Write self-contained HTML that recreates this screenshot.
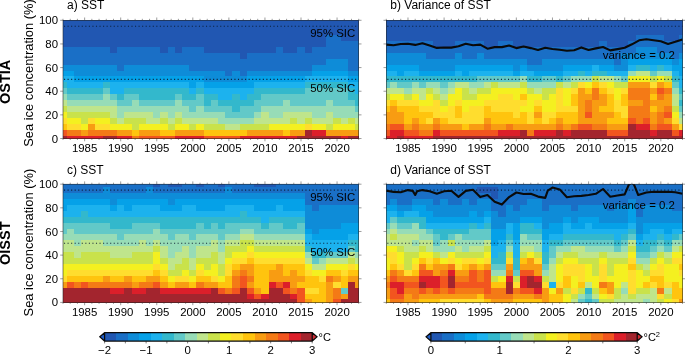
<!DOCTYPE html>
<html><head><meta charset="utf-8"><title>SST vs sea ice concentration</title>
<style>html,body{margin:0;padding:0;background:#fff;}body{width:685px;height:355px;overflow:hidden;position:relative;font-family:"Liberation Sans",sans-serif;}</style>
</head><body>
<svg width="685" height="355" viewBox="0 0 685 355" style="will-change:transform;position:absolute;left:0;top:0;font-family:'Liberation Sans',sans-serif">
<rect width="685" height="355" fill="#fff"/>
<g shape-rendering="crispEdges">
<rect x="63" y="20.3" width="296" height="3.25" fill="#2157B2"/>
<rect x="63" y="23.25" width="296" height="6.21" fill="#2157B2"/>
<rect x="63" y="29.16" width="296" height="6.21" fill="#2157B2"/>
<rect x="63" y="35.08" width="263.55" height="6.21" fill="#2157B2"/>
<rect x="326.25" y="35.08" width="14.72" height="6.21" fill="#1A6FC6"/>
<rect x="340.67" y="35.08" width="18.33" height="6.21" fill="#2157B2"/>
<rect x="63" y="40.98" width="263.55" height="6.21" fill="#2157B2"/>
<rect x="326.25" y="40.98" width="32.75" height="6.21" fill="#1A6FC6"/>
<rect x="63" y="46.89" width="47.18" height="6.21" fill="#1A6FC6"/>
<rect x="109.88" y="46.89" width="7.51" height="6.21" fill="#2157B2"/>
<rect x="117.09" y="46.89" width="43.57" height="6.21" fill="#1A6FC6"/>
<rect x="160.36" y="46.89" width="7.51" height="6.21" fill="#2157B2"/>
<rect x="167.58" y="46.89" width="7.51" height="6.21" fill="#1A6FC6"/>
<rect x="174.79" y="46.89" width="7.51" height="6.21" fill="#2157B2"/>
<rect x="182" y="46.89" width="21.94" height="6.21" fill="#1A6FC6"/>
<rect x="203.64" y="46.89" width="72.42" height="6.21" fill="#2157B2"/>
<rect x="275.76" y="46.89" width="7.51" height="6.21" fill="#1A6FC6"/>
<rect x="282.97" y="46.89" width="14.72" height="6.21" fill="#2157B2"/>
<rect x="297.4" y="46.89" width="7.51" height="6.21" fill="#1A6FC6"/>
<rect x="304.61" y="46.89" width="7.51" height="6.21" fill="#2157B2"/>
<rect x="311.82" y="46.89" width="47.18" height="6.21" fill="#1A6FC6"/>
<rect x="63" y="52.8" width="177" height="6.21" fill="#1A6FC6"/>
<rect x="239.7" y="52.8" width="7.51" height="6.21" fill="#2157B2"/>
<rect x="246.91" y="52.8" width="112.09" height="6.21" fill="#1A6FC6"/>
<rect x="63" y="58.72" width="263.55" height="6.21" fill="#1A6FC6"/>
<rect x="326.25" y="58.72" width="21.94" height="6.21" fill="#0E8CD8"/>
<rect x="347.88" y="58.72" width="11.12" height="6.21" fill="#1A6FC6"/>
<rect x="63" y="64.62" width="54.39" height="6.21" fill="#0E8CD8"/>
<rect x="117.09" y="64.62" width="7.51" height="6.21" fill="#1A6FC6"/>
<rect x="124.3" y="64.62" width="65.21" height="6.21" fill="#0E8CD8"/>
<rect x="189.21" y="64.62" width="122.91" height="6.21" fill="#1A6FC6"/>
<rect x="311.82" y="64.62" width="36.36" height="6.21" fill="#0E8CD8"/>
<rect x="347.88" y="64.62" width="11.12" height="6.21" fill="#1A6FC6"/>
<rect x="63" y="70.53" width="11.12" height="6.21" fill="#05A1E8"/>
<rect x="73.82" y="70.53" width="151.76" height="6.21" fill="#0E8CD8"/>
<rect x="225.27" y="70.53" width="7.51" height="6.21" fill="#1A6FC6"/>
<rect x="232.49" y="70.53" width="7.51" height="6.21" fill="#0E8CD8"/>
<rect x="239.7" y="70.53" width="7.51" height="6.21" fill="#1A6FC6"/>
<rect x="246.91" y="70.53" width="65.21" height="6.21" fill="#0E8CD8"/>
<rect x="311.82" y="70.53" width="36.36" height="6.21" fill="#05A1E8"/>
<rect x="347.88" y="70.53" width="11.12" height="6.21" fill="#0E8CD8"/>
<rect x="63" y="76.44" width="11.12" height="6.21" fill="#1CB2EE"/>
<rect x="73.82" y="76.44" width="130.12" height="6.21" fill="#05A1E8"/>
<rect x="203.64" y="76.44" width="43.57" height="6.21" fill="#0E8CD8"/>
<rect x="246.91" y="76.44" width="58" height="6.21" fill="#05A1E8"/>
<rect x="304.61" y="76.44" width="43.57" height="6.21" fill="#1CB2EE"/>
<rect x="347.88" y="76.44" width="11.12" height="6.21" fill="#05A1E8"/>
<rect x="63" y="82.35" width="3.91" height="6.21" fill="#33B8CC"/>
<rect x="66.61" y="82.35" width="36.36" height="6.21" fill="#1CB2EE"/>
<rect x="102.67" y="82.35" width="7.51" height="6.21" fill="#33B8CC"/>
<rect x="109.88" y="82.35" width="79.63" height="6.21" fill="#1CB2EE"/>
<rect x="189.21" y="82.35" width="7.51" height="6.21" fill="#05A1E8"/>
<rect x="196.43" y="82.35" width="7.51" height="6.21" fill="#1CB2EE"/>
<rect x="203.64" y="82.35" width="50.79" height="6.21" fill="#05A1E8"/>
<rect x="254.12" y="82.35" width="50.79" height="6.21" fill="#1CB2EE"/>
<rect x="304.61" y="82.35" width="43.57" height="6.21" fill="#33B8CC"/>
<rect x="347.88" y="82.35" width="11.12" height="6.21" fill="#1CB2EE"/>
<rect x="63" y="88.27" width="3.91" height="6.21" fill="#62C9C8"/>
<rect x="66.61" y="88.27" width="36.36" height="6.21" fill="#33B8CC"/>
<rect x="102.67" y="88.27" width="7.51" height="6.21" fill="#62C9C8"/>
<rect x="109.88" y="88.27" width="14.72" height="6.21" fill="#1CB2EE"/>
<rect x="124.3" y="88.27" width="65.21" height="6.21" fill="#33B8CC"/>
<rect x="189.21" y="88.27" width="7.51" height="6.21" fill="#1CB2EE"/>
<rect x="196.43" y="88.27" width="7.51" height="6.21" fill="#33B8CC"/>
<rect x="203.64" y="88.27" width="50.79" height="6.21" fill="#1CB2EE"/>
<rect x="254.12" y="88.27" width="50.79" height="6.21" fill="#33B8CC"/>
<rect x="304.61" y="88.27" width="43.57" height="6.21" fill="#62C9C8"/>
<rect x="347.88" y="88.27" width="7.51" height="6.21" fill="#33B8CC"/>
<rect x="355.09" y="88.27" width="3.91" height="6.21" fill="#1CB2EE"/>
<rect x="63" y="94.17" width="3.91" height="6.21" fill="#97DCB7"/>
<rect x="66.61" y="94.17" width="36.36" height="6.21" fill="#62C9C8"/>
<rect x="102.67" y="94.17" width="7.51" height="6.21" fill="#97DCB7"/>
<rect x="109.88" y="94.17" width="7.51" height="6.21" fill="#62C9C8"/>
<rect x="117.09" y="94.17" width="7.51" height="6.21" fill="#33B8CC"/>
<rect x="124.3" y="94.17" width="14.72" height="6.21" fill="#62C9C8"/>
<rect x="138.73" y="94.17" width="36.36" height="6.21" fill="#33B8CC"/>
<rect x="174.79" y="94.17" width="7.51" height="6.21" fill="#62C9C8"/>
<rect x="182" y="94.17" width="14.72" height="6.21" fill="#33B8CC"/>
<rect x="196.43" y="94.17" width="7.51" height="6.21" fill="#62C9C8"/>
<rect x="203.64" y="94.17" width="14.72" height="6.21" fill="#33B8CC"/>
<rect x="218.06" y="94.17" width="14.72" height="6.21" fill="#1CB2EE"/>
<rect x="232.49" y="94.17" width="7.51" height="6.21" fill="#33B8CC"/>
<rect x="239.7" y="94.17" width="7.51" height="6.21" fill="#1CB2EE"/>
<rect x="246.91" y="94.17" width="14.72" height="6.21" fill="#33B8CC"/>
<rect x="261.34" y="94.17" width="86.85" height="6.21" fill="#62C9C8"/>
<rect x="347.88" y="94.17" width="11.12" height="6.21" fill="#33B8CC"/>
<rect x="63" y="100.09" width="3.91" height="6.21" fill="#BFE58C"/>
<rect x="66.61" y="100.09" width="50.79" height="6.21" fill="#97DCB7"/>
<rect x="117.09" y="100.09" width="14.72" height="6.21" fill="#62C9C8"/>
<rect x="131.52" y="100.09" width="7.51" height="6.21" fill="#97DCB7"/>
<rect x="138.73" y="100.09" width="36.36" height="6.21" fill="#62C9C8"/>
<rect x="174.79" y="100.09" width="7.51" height="6.21" fill="#97DCB7"/>
<rect x="182" y="100.09" width="21.94" height="6.21" fill="#62C9C8"/>
<rect x="203.64" y="100.09" width="7.51" height="6.21" fill="#33B8CC"/>
<rect x="210.85" y="100.09" width="7.51" height="6.21" fill="#62C9C8"/>
<rect x="218.06" y="100.09" width="36.36" height="6.21" fill="#33B8CC"/>
<rect x="254.12" y="100.09" width="29.15" height="6.21" fill="#62C9C8"/>
<rect x="282.97" y="100.09" width="7.51" height="6.21" fill="#97DCB7"/>
<rect x="290.18" y="100.09" width="36.36" height="6.21" fill="#62C9C8"/>
<rect x="326.25" y="100.09" width="7.51" height="6.21" fill="#97DCB7"/>
<rect x="333.46" y="100.09" width="21.94" height="6.21" fill="#62C9C8"/>
<rect x="355.09" y="100.09" width="3.91" height="6.21" fill="#33B8CC"/>
<rect x="63" y="106" width="3.91" height="6.21" fill="#C9E24B"/>
<rect x="66.61" y="106" width="50.79" height="6.21" fill="#BFE58C"/>
<rect x="117.09" y="106" width="72.42" height="6.21" fill="#97DCB7"/>
<rect x="189.21" y="106" width="7.51" height="6.21" fill="#62C9C8"/>
<rect x="196.43" y="106" width="7.51" height="6.21" fill="#97DCB7"/>
<rect x="203.64" y="106" width="29.15" height="6.21" fill="#62C9C8"/>
<rect x="232.49" y="106" width="7.51" height="6.21" fill="#33B8CC"/>
<rect x="239.7" y="106" width="21.94" height="6.21" fill="#62C9C8"/>
<rect x="261.34" y="106" width="94.06" height="6.21" fill="#97DCB7"/>
<rect x="355.09" y="106" width="3.91" height="6.21" fill="#62C9C8"/>
<rect x="63" y="111.91" width="3.91" height="6.21" fill="#F4F020"/>
<rect x="66.61" y="111.91" width="43.57" height="6.21" fill="#C9E24B"/>
<rect x="109.88" y="111.91" width="7.51" height="6.21" fill="#BFE58C"/>
<rect x="117.09" y="111.91" width="7.51" height="6.21" fill="#97DCB7"/>
<rect x="124.3" y="111.91" width="29.15" height="6.21" fill="#BFE58C"/>
<rect x="153.15" y="111.91" width="7.51" height="6.21" fill="#97DCB7"/>
<rect x="160.36" y="111.91" width="7.51" height="6.21" fill="#BFE58C"/>
<rect x="167.58" y="111.91" width="7.51" height="6.21" fill="#97DCB7"/>
<rect x="174.79" y="111.91" width="7.51" height="6.21" fill="#BFE58C"/>
<rect x="182" y="111.91" width="43.57" height="6.21" fill="#97DCB7"/>
<rect x="225.27" y="111.91" width="29.15" height="6.21" fill="#62C9C8"/>
<rect x="254.12" y="111.91" width="7.51" height="6.21" fill="#97DCB7"/>
<rect x="261.34" y="111.91" width="7.51" height="6.21" fill="#BFE58C"/>
<rect x="268.55" y="111.91" width="14.72" height="6.21" fill="#97DCB7"/>
<rect x="282.97" y="111.91" width="29.15" height="6.21" fill="#BFE58C"/>
<rect x="311.82" y="111.91" width="14.72" height="6.21" fill="#97DCB7"/>
<rect x="326.25" y="111.91" width="7.51" height="6.21" fill="#BFE58C"/>
<rect x="333.46" y="111.91" width="25.54" height="6.21" fill="#97DCB7"/>
<rect x="63" y="117.81" width="3.91" height="6.21" fill="#FFDD2E"/>
<rect x="66.61" y="117.81" width="14.72" height="6.21" fill="#F4F020"/>
<rect x="81.03" y="117.81" width="7.51" height="6.21" fill="#C9E24B"/>
<rect x="88.24" y="117.81" width="7.51" height="6.21" fill="#FFDD2E"/>
<rect x="95.45" y="117.81" width="14.72" height="6.21" fill="#F4F020"/>
<rect x="109.88" y="117.81" width="7.51" height="6.21" fill="#C9E24B"/>
<rect x="117.09" y="117.81" width="7.51" height="6.21" fill="#BFE58C"/>
<rect x="124.3" y="117.81" width="21.94" height="6.21" fill="#C9E24B"/>
<rect x="145.94" y="117.81" width="14.72" height="6.21" fill="#BFE58C"/>
<rect x="160.36" y="117.81" width="7.51" height="6.21" fill="#C9E24B"/>
<rect x="167.58" y="117.81" width="7.51" height="6.21" fill="#BFE58C"/>
<rect x="174.79" y="117.81" width="7.51" height="6.21" fill="#C9E24B"/>
<rect x="182" y="117.81" width="36.36" height="6.21" fill="#BFE58C"/>
<rect x="218.06" y="117.81" width="36.36" height="6.21" fill="#97DCB7"/>
<rect x="254.12" y="117.81" width="36.36" height="6.21" fill="#BFE58C"/>
<rect x="290.18" y="117.81" width="7.51" height="6.21" fill="#C9E24B"/>
<rect x="297.4" y="117.81" width="7.51" height="6.21" fill="#BFE58C"/>
<rect x="304.61" y="117.81" width="7.51" height="6.21" fill="#C9E24B"/>
<rect x="311.82" y="117.81" width="21.94" height="6.21" fill="#BFE58C"/>
<rect x="333.46" y="117.81" width="7.51" height="6.21" fill="#C9E24B"/>
<rect x="340.67" y="117.81" width="7.51" height="6.21" fill="#BFE58C"/>
<rect x="347.88" y="117.81" width="7.51" height="6.21" fill="#C9E24B"/>
<rect x="355.09" y="117.81" width="3.91" height="6.21" fill="#BFE58C"/>
<rect x="63" y="123.72" width="3.91" height="6.21" fill="#FFC40E"/>
<rect x="66.61" y="123.72" width="14.72" height="6.21" fill="#FFDD2E"/>
<rect x="81.03" y="123.72" width="7.51" height="6.21" fill="#F4F020"/>
<rect x="88.24" y="123.72" width="7.51" height="6.21" fill="#F89C12"/>
<rect x="95.45" y="123.72" width="14.72" height="6.21" fill="#FFDD2E"/>
<rect x="109.88" y="123.72" width="21.94" height="6.21" fill="#F4F020"/>
<rect x="131.52" y="123.72" width="7.51" height="6.21" fill="#C9E24B"/>
<rect x="138.73" y="123.72" width="29.15" height="6.21" fill="#F4F020"/>
<rect x="167.58" y="123.72" width="7.51" height="6.21" fill="#C9E24B"/>
<rect x="174.79" y="123.72" width="14.72" height="6.21" fill="#F4F020"/>
<rect x="189.21" y="123.72" width="7.51" height="6.21" fill="#C9E24B"/>
<rect x="196.43" y="123.72" width="7.51" height="6.21" fill="#F4F020"/>
<rect x="203.64" y="123.72" width="21.94" height="6.21" fill="#C9E24B"/>
<rect x="225.27" y="123.72" width="14.72" height="6.21" fill="#BFE58C"/>
<rect x="239.7" y="123.72" width="29.15" height="6.21" fill="#C9E24B"/>
<rect x="268.55" y="123.72" width="36.36" height="6.21" fill="#F4F020"/>
<rect x="304.61" y="123.72" width="7.51" height="6.21" fill="#FFDD2E"/>
<rect x="311.82" y="123.72" width="14.72" height="6.21" fill="#F4F020"/>
<rect x="326.25" y="123.72" width="7.51" height="6.21" fill="#C9E24B"/>
<rect x="333.46" y="123.72" width="21.94" height="6.21" fill="#F4F020"/>
<rect x="355.09" y="123.72" width="3.91" height="6.21" fill="#C9E24B"/>
<rect x="63" y="129.63" width="3.91" height="6.21" fill="#F2551F"/>
<rect x="66.61" y="129.63" width="14.72" height="6.21" fill="#F47A16"/>
<rect x="81.03" y="129.63" width="7.51" height="6.21" fill="#F89C12"/>
<rect x="88.24" y="129.63" width="29.15" height="6.21" fill="#F47A16"/>
<rect x="117.09" y="129.63" width="14.72" height="6.21" fill="#F89C12"/>
<rect x="131.52" y="129.63" width="7.51" height="6.21" fill="#FFC40E"/>
<rect x="138.73" y="129.63" width="21.94" height="6.21" fill="#F89C12"/>
<rect x="160.36" y="129.63" width="14.72" height="6.21" fill="#FFC40E"/>
<rect x="174.79" y="129.63" width="29.15" height="6.21" fill="#F89C12"/>
<rect x="203.64" y="129.63" width="43.57" height="6.21" fill="#FFC40E"/>
<rect x="246.91" y="129.63" width="36.36" height="6.21" fill="#F89C12"/>
<rect x="282.97" y="129.63" width="7.51" height="6.21" fill="#FFC40E"/>
<rect x="290.18" y="129.63" width="14.72" height="6.21" fill="#F89C12"/>
<rect x="304.61" y="129.63" width="7.51" height="6.21" fill="#A3252E"/>
<rect x="311.82" y="129.63" width="14.72" height="6.21" fill="#DC1F2A"/>
<rect x="326.25" y="129.63" width="32.75" height="6.21" fill="#F89C12"/>
<rect x="63" y="135.54" width="3.91" height="3.26" fill="#A3252E"/>
<rect x="66.61" y="135.54" width="36.36" height="3.26" fill="#DC1F2A"/>
<rect x="102.67" y="135.54" width="14.72" height="3.26" fill="#A3252E"/>
<rect x="117.09" y="135.54" width="14.72" height="3.26" fill="#DC1F2A"/>
<rect x="131.52" y="135.54" width="7.51" height="3.26" fill="#F47A16"/>
<rect x="138.73" y="135.54" width="36.36" height="3.26" fill="#F2551F"/>
<rect x="174.79" y="135.54" width="29.15" height="3.26" fill="#DC1F2A"/>
<rect x="203.64" y="135.54" width="36.36" height="3.26" fill="#F2551F"/>
<rect x="239.7" y="135.54" width="58" height="3.26" fill="#DC1F2A"/>
<rect x="297.4" y="135.54" width="43.57" height="3.26" fill="#A3252E"/>
<rect x="340.67" y="135.54" width="7.51" height="3.26" fill="#DC1F2A"/>
<rect x="347.88" y="135.54" width="11.12" height="3.26" fill="#A3252E"/>
</g>
<rect x="63" y="20.3" width="295.7" height="118.2" fill="none" stroke="#222" stroke-width="0.55"/>
<path d="M63 138.5v1.5M63 20.3v-1.5M70.21 138.5v1.5M70.21 20.3v-1.5M77.42 138.5v1.5M77.42 20.3v-1.5M84.64 138.5v2.8M84.64 20.3v-2.8M91.85 138.5v1.5M91.85 20.3v-1.5M99.06 138.5v1.5M99.06 20.3v-1.5M106.27 138.5v1.5M106.27 20.3v-1.5M113.49 138.5v1.5M113.49 20.3v-1.5M120.7 138.5v2.8M120.7 20.3v-2.8M127.91 138.5v1.5M127.91 20.3v-1.5M135.12 138.5v1.5M135.12 20.3v-1.5M142.33 138.5v1.5M142.33 20.3v-1.5M149.55 138.5v1.5M149.55 20.3v-1.5M156.76 138.5v2.8M156.76 20.3v-2.8M163.97 138.5v1.5M163.97 20.3v-1.5M171.18 138.5v1.5M171.18 20.3v-1.5M178.4 138.5v1.5M178.4 20.3v-1.5M185.61 138.5v1.5M185.61 20.3v-1.5M192.82 138.5v2.8M192.82 20.3v-2.8M200.03 138.5v1.5M200.03 20.3v-1.5M207.24 138.5v1.5M207.24 20.3v-1.5M214.46 138.5v1.5M214.46 20.3v-1.5M221.67 138.5v1.5M221.67 20.3v-1.5M228.88 138.5v2.8M228.88 20.3v-2.8M236.09 138.5v1.5M236.09 20.3v-1.5M243.3 138.5v1.5M243.3 20.3v-1.5M250.52 138.5v1.5M250.52 20.3v-1.5M257.73 138.5v1.5M257.73 20.3v-1.5M264.94 138.5v2.8M264.94 20.3v-2.8M272.15 138.5v1.5M272.15 20.3v-1.5M279.37 138.5v1.5M279.37 20.3v-1.5M286.58 138.5v1.5M286.58 20.3v-1.5M293.79 138.5v1.5M293.79 20.3v-1.5M301 138.5v2.8M301 20.3v-2.8M308.21 138.5v1.5M308.21 20.3v-1.5M315.43 138.5v1.5M315.43 20.3v-1.5M322.64 138.5v1.5M322.64 20.3v-1.5M329.85 138.5v1.5M329.85 20.3v-1.5M337.06 138.5v2.8M337.06 20.3v-2.8M344.28 138.5v1.5M344.28 20.3v-1.5M351.49 138.5v1.5M351.49 20.3v-1.5M358.7 138.5v1.5M358.7 20.3v-1.5M63 138.5h-2.8M358.7 138.5h2.8M63 114.86h-2.8M358.7 114.86h2.8M63 91.22h-2.8M358.7 91.22h2.8M63 67.58h-2.8M358.7 67.58h2.8M63 43.94h-2.8M358.7 43.94h2.8M63 20.3h-2.8M358.7 20.3h2.8" stroke="#3a3a3a" stroke-width="0.5" fill="none"/>
<path d="M64 79.4H358.7" stroke="#0a1a30" stroke-width="1.1" stroke-dasharray="1.1 2.45" fill="none" opacity="0.9"/>
<path d="M64 26.21H358.7" stroke="#0a1a30" stroke-width="1.1" stroke-dasharray="1.1 2.45" fill="none" opacity="0.9"/>
<text x="84.64"  y="152.3" font-size="11.4" text-anchor="middle" fill="#000">1985</text>
<text x="120.7"  y="152.3" font-size="11.4" text-anchor="middle" fill="#000">1990</text>
<text x="156.76"  y="152.3" font-size="11.4" text-anchor="middle" fill="#000">1995</text>
<text x="192.82"  y="152.3" font-size="11.4" text-anchor="middle" fill="#000">2000</text>
<text x="228.88"  y="152.3" font-size="11.4" text-anchor="middle" fill="#000">2005</text>
<text x="264.94"  y="152.3" font-size="11.4" text-anchor="middle" fill="#000">2010</text>
<text x="301"  y="152.3" font-size="11.4" text-anchor="middle" fill="#000">2015</text>
<text x="337.06"  y="152.3" font-size="11.4" text-anchor="middle" fill="#000">2020</text>
<text x="58" y="142.55" font-size="11.4" text-anchor="end" fill="#000">0</text>
<text x="58" y="118.91" font-size="11.4" text-anchor="end" fill="#000">20</text>
<text x="58" y="95.27" font-size="11.4" text-anchor="end" fill="#000">40</text>
<text x="58" y="71.63" font-size="11.4" text-anchor="end" fill="#000">60</text>
<text x="58" y="47.99" font-size="11.4" text-anchor="end" fill="#000">80</text>
<text x="58" y="24.35" font-size="11.4" text-anchor="end" fill="#000">100</text>
<g shape-rendering="crispEdges">
<rect x="386.3" y="20.3" width="296.5" height="3.25" fill="#2157B2"/>
<rect x="386.3" y="23.25" width="296.5" height="6.21" fill="#2157B2"/>
<rect x="386.3" y="29.16" width="296.5" height="6.21" fill="#2157B2"/>
<rect x="386.3" y="35.08" width="249.54" height="6.21" fill="#2157B2"/>
<rect x="635.54" y="35.08" width="29.2" height="6.21" fill="#1A6FC6"/>
<rect x="664.44" y="35.08" width="14.75" height="6.21" fill="#2157B2"/>
<rect x="678.89" y="35.08" width="3.91" height="6.21" fill="#1A6FC6"/>
<rect x="386.3" y="40.98" width="47.26" height="6.21" fill="#1A6FC6"/>
<rect x="433.26" y="40.98" width="21.97" height="6.21" fill="#2157B2"/>
<rect x="454.93" y="40.98" width="29.2" height="6.21" fill="#1A6FC6"/>
<rect x="483.83" y="40.98" width="14.75" height="6.21" fill="#2157B2"/>
<rect x="498.28" y="40.98" width="14.75" height="6.21" fill="#1A6FC6"/>
<rect x="512.73" y="40.98" width="86.99" height="6.21" fill="#2157B2"/>
<rect x="599.42" y="40.98" width="7.52" height="6.21" fill="#1A6FC6"/>
<rect x="606.64" y="40.98" width="21.97" height="6.21" fill="#2157B2"/>
<rect x="628.32" y="40.98" width="54.48" height="6.21" fill="#1A6FC6"/>
<rect x="386.3" y="46.89" width="249.54" height="6.21" fill="#1A6FC6"/>
<rect x="635.54" y="46.89" width="21.97" height="6.21" fill="#0E8CD8"/>
<rect x="657.21" y="46.89" width="25.59" height="6.21" fill="#1A6FC6"/>
<rect x="386.3" y="52.8" width="40.03" height="6.21" fill="#0E8CD8"/>
<rect x="426.03" y="52.8" width="29.2" height="6.21" fill="#1A6FC6"/>
<rect x="454.93" y="52.8" width="7.52" height="6.21" fill="#0E8CD8"/>
<rect x="462.16" y="52.8" width="14.75" height="6.21" fill="#1A6FC6"/>
<rect x="476.6" y="52.8" width="7.52" height="6.21" fill="#0E8CD8"/>
<rect x="483.83" y="52.8" width="137.56" height="6.21" fill="#1A6FC6"/>
<rect x="621.09" y="52.8" width="50.87" height="6.21" fill="#0E8CD8"/>
<rect x="671.66" y="52.8" width="7.52" height="6.21" fill="#1A6FC6"/>
<rect x="678.89" y="52.8" width="3.91" height="6.21" fill="#0E8CD8"/>
<rect x="386.3" y="58.72" width="141.18" height="6.21" fill="#0E8CD8"/>
<rect x="527.18" y="58.72" width="14.75" height="6.21" fill="#1A6FC6"/>
<rect x="541.62" y="58.72" width="72.54" height="6.21" fill="#0E8CD8"/>
<rect x="613.87" y="58.72" width="7.52" height="6.21" fill="#1A6FC6"/>
<rect x="621.09" y="58.72" width="7.52" height="6.21" fill="#0E8CD8"/>
<rect x="628.32" y="58.72" width="43.65" height="6.21" fill="#05A1E8"/>
<rect x="671.66" y="58.72" width="7.52" height="6.21" fill="#0E8CD8"/>
<rect x="678.89" y="58.72" width="3.91" height="6.21" fill="#05A1E8"/>
<rect x="386.3" y="64.62" width="32.81" height="6.21" fill="#05A1E8"/>
<rect x="418.81" y="64.62" width="36.42" height="6.21" fill="#0E8CD8"/>
<rect x="454.93" y="64.62" width="58.1" height="6.21" fill="#05A1E8"/>
<rect x="512.73" y="64.62" width="7.52" height="6.21" fill="#0E8CD8"/>
<rect x="519.95" y="64.62" width="7.52" height="6.21" fill="#05A1E8"/>
<rect x="527.18" y="64.62" width="36.42" height="6.21" fill="#0E8CD8"/>
<rect x="563.3" y="64.62" width="29.2" height="6.21" fill="#05A1E8"/>
<rect x="592.2" y="64.62" width="7.52" height="6.21" fill="#1CB2EE"/>
<rect x="599.42" y="64.62" width="14.75" height="6.21" fill="#05A1E8"/>
<rect x="613.87" y="64.62" width="14.75" height="6.21" fill="#0E8CD8"/>
<rect x="628.32" y="64.62" width="7.52" height="6.21" fill="#1CB2EE"/>
<rect x="635.54" y="64.62" width="14.75" height="6.21" fill="#33B8CC"/>
<rect x="649.99" y="64.62" width="7.52" height="6.21" fill="#1CB2EE"/>
<rect x="657.21" y="64.62" width="7.52" height="6.21" fill="#33B8CC"/>
<rect x="664.44" y="64.62" width="7.52" height="6.21" fill="#1CB2EE"/>
<rect x="671.66" y="64.62" width="11.14" height="6.21" fill="#05A1E8"/>
<rect x="386.3" y="70.53" width="11.14" height="6.21" fill="#1CB2EE"/>
<rect x="397.14" y="70.53" width="7.52" height="6.21" fill="#05A1E8"/>
<rect x="404.36" y="70.53" width="14.75" height="6.21" fill="#1CB2EE"/>
<rect x="418.81" y="70.53" width="36.42" height="6.21" fill="#05A1E8"/>
<rect x="454.93" y="70.53" width="7.52" height="6.21" fill="#1CB2EE"/>
<rect x="462.16" y="70.53" width="7.52" height="6.21" fill="#05A1E8"/>
<rect x="469.38" y="70.53" width="43.65" height="6.21" fill="#1CB2EE"/>
<rect x="512.73" y="70.53" width="7.52" height="6.21" fill="#05A1E8"/>
<rect x="519.95" y="70.53" width="14.75" height="6.21" fill="#1CB2EE"/>
<rect x="534.4" y="70.53" width="29.2" height="6.21" fill="#05A1E8"/>
<rect x="563.3" y="70.53" width="14.75" height="6.21" fill="#1CB2EE"/>
<rect x="577.75" y="70.53" width="7.52" height="6.21" fill="#33B8CC"/>
<rect x="584.97" y="70.53" width="7.52" height="6.21" fill="#1CB2EE"/>
<rect x="592.2" y="70.53" width="14.75" height="6.21" fill="#33B8CC"/>
<rect x="606.64" y="70.53" width="21.97" height="6.21" fill="#1CB2EE"/>
<rect x="628.32" y="70.53" width="7.52" height="6.21" fill="#97DCB7"/>
<rect x="635.54" y="70.53" width="14.75" height="6.21" fill="#BFE58C"/>
<rect x="649.99" y="70.53" width="7.52" height="6.21" fill="#62C9C8"/>
<rect x="657.21" y="70.53" width="14.75" height="6.21" fill="#97DCB7"/>
<rect x="671.66" y="70.53" width="7.52" height="6.21" fill="#1CB2EE"/>
<rect x="678.89" y="70.53" width="3.91" height="6.21" fill="#05A1E8"/>
<rect x="386.3" y="76.44" width="90.6" height="6.21" fill="#33B8CC"/>
<rect x="476.6" y="76.44" width="43.65" height="6.21" fill="#62C9C8"/>
<rect x="519.95" y="76.44" width="7.52" height="6.21" fill="#97DCB7"/>
<rect x="527.18" y="76.44" width="14.75" height="6.21" fill="#33B8CC"/>
<rect x="541.62" y="76.44" width="14.75" height="6.21" fill="#62C9C8"/>
<rect x="556.07" y="76.44" width="7.52" height="6.21" fill="#33B8CC"/>
<rect x="563.3" y="76.44" width="7.52" height="6.21" fill="#62C9C8"/>
<rect x="570.52" y="76.44" width="21.97" height="6.21" fill="#97DCB7"/>
<rect x="592.2" y="76.44" width="7.52" height="6.21" fill="#C9E24B"/>
<rect x="599.42" y="76.44" width="14.75" height="6.21" fill="#BFE58C"/>
<rect x="613.87" y="76.44" width="7.52" height="6.21" fill="#97DCB7"/>
<rect x="621.09" y="76.44" width="7.52" height="6.21" fill="#62C9C8"/>
<rect x="628.32" y="76.44" width="21.97" height="6.21" fill="#F4F020"/>
<rect x="649.99" y="76.44" width="7.52" height="6.21" fill="#C9E24B"/>
<rect x="657.21" y="76.44" width="7.52" height="6.21" fill="#F4F020"/>
<rect x="664.44" y="76.44" width="7.52" height="6.21" fill="#C9E24B"/>
<rect x="671.66" y="76.44" width="7.52" height="6.21" fill="#33B8CC"/>
<rect x="678.89" y="76.44" width="3.91" height="6.21" fill="#1CB2EE"/>
<rect x="386.3" y="82.35" width="3.91" height="6.21" fill="#62C9C8"/>
<rect x="389.91" y="82.35" width="7.52" height="6.21" fill="#97DCB7"/>
<rect x="397.14" y="82.35" width="14.75" height="6.21" fill="#62C9C8"/>
<rect x="411.59" y="82.35" width="7.52" height="6.21" fill="#97DCB7"/>
<rect x="418.81" y="82.35" width="7.52" height="6.21" fill="#62C9C8"/>
<rect x="426.03" y="82.35" width="14.75" height="6.21" fill="#97DCB7"/>
<rect x="440.48" y="82.35" width="7.52" height="6.21" fill="#62C9C8"/>
<rect x="447.71" y="82.35" width="7.52" height="6.21" fill="#97DCB7"/>
<rect x="454.93" y="82.35" width="14.75" height="6.21" fill="#BFE58C"/>
<rect x="469.38" y="82.35" width="14.75" height="6.21" fill="#97DCB7"/>
<rect x="483.83" y="82.35" width="7.52" height="6.21" fill="#BFE58C"/>
<rect x="491.05" y="82.35" width="7.52" height="6.21" fill="#C9E24B"/>
<rect x="498.28" y="82.35" width="21.97" height="6.21" fill="#BFE58C"/>
<rect x="519.95" y="82.35" width="7.52" height="6.21" fill="#C9E24B"/>
<rect x="527.18" y="82.35" width="29.2" height="6.21" fill="#97DCB7"/>
<rect x="556.07" y="82.35" width="7.52" height="6.21" fill="#C9E24B"/>
<rect x="563.3" y="82.35" width="7.52" height="6.21" fill="#BFE58C"/>
<rect x="570.52" y="82.35" width="7.52" height="6.21" fill="#C9E24B"/>
<rect x="577.75" y="82.35" width="7.52" height="6.21" fill="#FFDD2E"/>
<rect x="584.97" y="82.35" width="7.52" height="6.21" fill="#F4F020"/>
<rect x="592.2" y="82.35" width="7.52" height="6.21" fill="#FFC40E"/>
<rect x="599.42" y="82.35" width="7.52" height="6.21" fill="#FFDD2E"/>
<rect x="606.64" y="82.35" width="7.52" height="6.21" fill="#F4F020"/>
<rect x="613.87" y="82.35" width="14.75" height="6.21" fill="#C9E24B"/>
<rect x="628.32" y="82.35" width="21.97" height="6.21" fill="#F89C12"/>
<rect x="649.99" y="82.35" width="7.52" height="6.21" fill="#FFDD2E"/>
<rect x="657.21" y="82.35" width="7.52" height="6.21" fill="#F89C12"/>
<rect x="664.44" y="82.35" width="7.52" height="6.21" fill="#FFC40E"/>
<rect x="671.66" y="82.35" width="7.52" height="6.21" fill="#62C9C8"/>
<rect x="678.89" y="82.35" width="3.91" height="6.21" fill="#1CB2EE"/>
<rect x="386.3" y="88.27" width="18.36" height="6.21" fill="#BFE58C"/>
<rect x="404.36" y="88.27" width="7.52" height="6.21" fill="#97DCB7"/>
<rect x="411.59" y="88.27" width="14.75" height="6.21" fill="#BFE58C"/>
<rect x="426.03" y="88.27" width="7.52" height="6.21" fill="#C9E24B"/>
<rect x="433.26" y="88.27" width="7.52" height="6.21" fill="#BFE58C"/>
<rect x="440.48" y="88.27" width="7.52" height="6.21" fill="#97DCB7"/>
<rect x="447.71" y="88.27" width="7.52" height="6.21" fill="#BFE58C"/>
<rect x="454.93" y="88.27" width="7.52" height="6.21" fill="#F4F020"/>
<rect x="462.16" y="88.27" width="7.52" height="6.21" fill="#C9E24B"/>
<rect x="469.38" y="88.27" width="7.52" height="6.21" fill="#BFE58C"/>
<rect x="476.6" y="88.27" width="14.75" height="6.21" fill="#C9E24B"/>
<rect x="491.05" y="88.27" width="36.42" height="6.21" fill="#F4F020"/>
<rect x="527.18" y="88.27" width="7.52" height="6.21" fill="#C9E24B"/>
<rect x="534.4" y="88.27" width="7.52" height="6.21" fill="#BFE58C"/>
<rect x="541.62" y="88.27" width="14.75" height="6.21" fill="#C9E24B"/>
<rect x="556.07" y="88.27" width="7.52" height="6.21" fill="#FFDD2E"/>
<rect x="563.3" y="88.27" width="7.52" height="6.21" fill="#F4F020"/>
<rect x="570.52" y="88.27" width="7.52" height="6.21" fill="#FFDD2E"/>
<rect x="577.75" y="88.27" width="7.52" height="6.21" fill="#F89C12"/>
<rect x="584.97" y="88.27" width="7.52" height="6.21" fill="#FFC40E"/>
<rect x="592.2" y="88.27" width="7.52" height="6.21" fill="#F47A16"/>
<rect x="599.42" y="88.27" width="7.52" height="6.21" fill="#FFC40E"/>
<rect x="606.64" y="88.27" width="7.52" height="6.21" fill="#FFDD2E"/>
<rect x="613.87" y="88.27" width="7.52" height="6.21" fill="#F4F020"/>
<rect x="621.09" y="88.27" width="7.52" height="6.21" fill="#FFDD2E"/>
<rect x="628.32" y="88.27" width="21.97" height="6.21" fill="#F47A16"/>
<rect x="649.99" y="88.27" width="7.52" height="6.21" fill="#F89C12"/>
<rect x="657.21" y="88.27" width="7.52" height="6.21" fill="#F2551F"/>
<rect x="664.44" y="88.27" width="7.52" height="6.21" fill="#F47A16"/>
<rect x="671.66" y="88.27" width="7.52" height="6.21" fill="#97DCB7"/>
<rect x="678.89" y="88.27" width="3.91" height="6.21" fill="#33B8CC"/>
<rect x="386.3" y="94.17" width="3.91" height="6.21" fill="#C9E24B"/>
<rect x="389.91" y="94.17" width="14.75" height="6.21" fill="#F4F020"/>
<rect x="404.36" y="94.17" width="7.52" height="6.21" fill="#C9E24B"/>
<rect x="411.59" y="94.17" width="7.52" height="6.21" fill="#F4F020"/>
<rect x="418.81" y="94.17" width="7.52" height="6.21" fill="#BFE58C"/>
<rect x="426.03" y="94.17" width="7.52" height="6.21" fill="#F4F020"/>
<rect x="433.26" y="94.17" width="7.52" height="6.21" fill="#C9E24B"/>
<rect x="440.48" y="94.17" width="7.52" height="6.21" fill="#BFE58C"/>
<rect x="447.71" y="94.17" width="14.75" height="6.21" fill="#F4F020"/>
<rect x="462.16" y="94.17" width="14.75" height="6.21" fill="#C9E24B"/>
<rect x="476.6" y="94.17" width="21.97" height="6.21" fill="#F4F020"/>
<rect x="498.28" y="94.17" width="14.75" height="6.21" fill="#FFDD2E"/>
<rect x="512.73" y="94.17" width="7.52" height="6.21" fill="#F4F020"/>
<rect x="519.95" y="94.17" width="7.52" height="6.21" fill="#FFC40E"/>
<rect x="527.18" y="94.17" width="14.75" height="6.21" fill="#F4F020"/>
<rect x="541.62" y="94.17" width="7.52" height="6.21" fill="#C9E24B"/>
<rect x="548.85" y="94.17" width="7.52" height="6.21" fill="#F4F020"/>
<rect x="556.07" y="94.17" width="7.52" height="6.21" fill="#FFDD2E"/>
<rect x="563.3" y="94.17" width="7.52" height="6.21" fill="#F4F020"/>
<rect x="570.52" y="94.17" width="7.52" height="6.21" fill="#FFC40E"/>
<rect x="577.75" y="94.17" width="14.75" height="6.21" fill="#F89C12"/>
<rect x="592.2" y="94.17" width="7.52" height="6.21" fill="#F47A16"/>
<rect x="599.42" y="94.17" width="7.52" height="6.21" fill="#F89C12"/>
<rect x="606.64" y="94.17" width="7.52" height="6.21" fill="#FFC40E"/>
<rect x="613.87" y="94.17" width="7.52" height="6.21" fill="#F4F020"/>
<rect x="621.09" y="94.17" width="7.52" height="6.21" fill="#FFC40E"/>
<rect x="628.32" y="94.17" width="21.97" height="6.21" fill="#F47A16"/>
<rect x="649.99" y="94.17" width="7.52" height="6.21" fill="#FFC40E"/>
<rect x="657.21" y="94.17" width="7.52" height="6.21" fill="#F47A16"/>
<rect x="664.44" y="94.17" width="7.52" height="6.21" fill="#F89C12"/>
<rect x="671.66" y="94.17" width="7.52" height="6.21" fill="#BFE58C"/>
<rect x="678.89" y="94.17" width="3.91" height="6.21" fill="#62C9C8"/>
<rect x="386.3" y="100.09" width="3.91" height="6.21" fill="#FFDD2E"/>
<rect x="389.91" y="100.09" width="7.52" height="6.21" fill="#FFC40E"/>
<rect x="397.14" y="100.09" width="21.97" height="6.21" fill="#FFDD2E"/>
<rect x="418.81" y="100.09" width="14.75" height="6.21" fill="#F4F020"/>
<rect x="433.26" y="100.09" width="7.52" height="6.21" fill="#FFDD2E"/>
<rect x="440.48" y="100.09" width="7.52" height="6.21" fill="#C9E24B"/>
<rect x="447.71" y="100.09" width="7.52" height="6.21" fill="#F4F020"/>
<rect x="454.93" y="100.09" width="7.52" height="6.21" fill="#FFDD2E"/>
<rect x="462.16" y="100.09" width="21.97" height="6.21" fill="#F4F020"/>
<rect x="483.83" y="100.09" width="43.65" height="6.21" fill="#FFDD2E"/>
<rect x="527.18" y="100.09" width="7.52" height="6.21" fill="#F4F020"/>
<rect x="534.4" y="100.09" width="7.52" height="6.21" fill="#FFDD2E"/>
<rect x="541.62" y="100.09" width="14.75" height="6.21" fill="#F4F020"/>
<rect x="556.07" y="100.09" width="7.52" height="6.21" fill="#FFDD2E"/>
<rect x="563.3" y="100.09" width="7.52" height="6.21" fill="#F4F020"/>
<rect x="570.52" y="100.09" width="7.52" height="6.21" fill="#FFC40E"/>
<rect x="577.75" y="100.09" width="7.52" height="6.21" fill="#F89C12"/>
<rect x="584.97" y="100.09" width="7.52" height="6.21" fill="#F47A16"/>
<rect x="592.2" y="100.09" width="14.75" height="6.21" fill="#F89C12"/>
<rect x="606.64" y="100.09" width="7.52" height="6.21" fill="#FFC40E"/>
<rect x="613.87" y="100.09" width="7.52" height="6.21" fill="#FFDD2E"/>
<rect x="621.09" y="100.09" width="7.52" height="6.21" fill="#FFC40E"/>
<rect x="628.32" y="100.09" width="14.75" height="6.21" fill="#F89C12"/>
<rect x="642.77" y="100.09" width="7.52" height="6.21" fill="#F47A16"/>
<rect x="649.99" y="100.09" width="21.97" height="6.21" fill="#F89C12"/>
<rect x="671.66" y="100.09" width="7.52" height="6.21" fill="#BFE58C"/>
<rect x="678.89" y="100.09" width="3.91" height="6.21" fill="#33B8CC"/>
<rect x="386.3" y="106" width="3.91" height="6.21" fill="#FFC40E"/>
<rect x="389.91" y="106" width="7.52" height="6.21" fill="#F89C12"/>
<rect x="397.14" y="106" width="21.97" height="6.21" fill="#FFC40E"/>
<rect x="418.81" y="106" width="21.97" height="6.21" fill="#FFDD2E"/>
<rect x="440.48" y="106" width="7.52" height="6.21" fill="#F4F020"/>
<rect x="447.71" y="106" width="7.52" height="6.21" fill="#FFDD2E"/>
<rect x="454.93" y="106" width="7.52" height="6.21" fill="#FFC40E"/>
<rect x="462.16" y="106" width="7.52" height="6.21" fill="#F4F020"/>
<rect x="469.38" y="106" width="14.75" height="6.21" fill="#FFDD2E"/>
<rect x="483.83" y="106" width="7.52" height="6.21" fill="#FFC40E"/>
<rect x="491.05" y="106" width="29.2" height="6.21" fill="#FFDD2E"/>
<rect x="519.95" y="106" width="14.75" height="6.21" fill="#F4F020"/>
<rect x="534.4" y="106" width="7.52" height="6.21" fill="#FFC40E"/>
<rect x="541.62" y="106" width="14.75" height="6.21" fill="#F4F020"/>
<rect x="556.07" y="106" width="21.97" height="6.21" fill="#FFDD2E"/>
<rect x="577.75" y="106" width="7.52" height="6.21" fill="#F89C12"/>
<rect x="584.97" y="106" width="7.52" height="6.21" fill="#F47A16"/>
<rect x="592.2" y="106" width="7.52" height="6.21" fill="#F89C12"/>
<rect x="599.42" y="106" width="14.75" height="6.21" fill="#FFC40E"/>
<rect x="613.87" y="106" width="14.75" height="6.21" fill="#FFDD2E"/>
<rect x="628.32" y="106" width="21.97" height="6.21" fill="#F47A16"/>
<rect x="649.99" y="106" width="7.52" height="6.21" fill="#FFC40E"/>
<rect x="657.21" y="106" width="7.52" height="6.21" fill="#F89C12"/>
<rect x="664.44" y="106" width="7.52" height="6.21" fill="#F47A16"/>
<rect x="671.66" y="106" width="7.52" height="6.21" fill="#C9E24B"/>
<rect x="678.89" y="106" width="3.91" height="6.21" fill="#62C9C8"/>
<rect x="386.3" y="111.91" width="18.36" height="6.21" fill="#F89C12"/>
<rect x="404.36" y="111.91" width="29.2" height="6.21" fill="#FFC40E"/>
<rect x="433.26" y="111.91" width="21.97" height="6.21" fill="#FFDD2E"/>
<rect x="454.93" y="111.91" width="7.52" height="6.21" fill="#FFC40E"/>
<rect x="462.16" y="111.91" width="21.97" height="6.21" fill="#FFDD2E"/>
<rect x="483.83" y="111.91" width="29.2" height="6.21" fill="#FFC40E"/>
<rect x="512.73" y="111.91" width="7.52" height="6.21" fill="#FFDD2E"/>
<rect x="519.95" y="111.91" width="7.52" height="6.21" fill="#FFC40E"/>
<rect x="527.18" y="111.91" width="7.52" height="6.21" fill="#FFDD2E"/>
<rect x="534.4" y="111.91" width="7.52" height="6.21" fill="#F89C12"/>
<rect x="541.62" y="111.91" width="14.75" height="6.21" fill="#FFDD2E"/>
<rect x="556.07" y="111.91" width="21.97" height="6.21" fill="#FFC40E"/>
<rect x="577.75" y="111.91" width="7.52" height="6.21" fill="#F89C12"/>
<rect x="584.97" y="111.91" width="7.52" height="6.21" fill="#F2551F"/>
<rect x="592.2" y="111.91" width="21.97" height="6.21" fill="#F89C12"/>
<rect x="613.87" y="111.91" width="7.52" height="6.21" fill="#FFC40E"/>
<rect x="621.09" y="111.91" width="7.52" height="6.21" fill="#FFDD2E"/>
<rect x="628.32" y="111.91" width="21.97" height="6.21" fill="#F47A16"/>
<rect x="649.99" y="111.91" width="7.52" height="6.21" fill="#F89C12"/>
<rect x="657.21" y="111.91" width="7.52" height="6.21" fill="#F47A16"/>
<rect x="664.44" y="111.91" width="7.52" height="6.21" fill="#F2551F"/>
<rect x="671.66" y="111.91" width="7.52" height="6.21" fill="#F4F020"/>
<rect x="678.89" y="111.91" width="3.91" height="6.21" fill="#97DCB7"/>
<rect x="386.3" y="117.81" width="18.36" height="6.21" fill="#F89C12"/>
<rect x="404.36" y="117.81" width="7.52" height="6.21" fill="#FFC40E"/>
<rect x="411.59" y="117.81" width="7.52" height="6.21" fill="#F89C12"/>
<rect x="418.81" y="117.81" width="7.52" height="6.21" fill="#FFC40E"/>
<rect x="426.03" y="117.81" width="7.52" height="6.21" fill="#FFDD2E"/>
<rect x="433.26" y="117.81" width="7.52" height="6.21" fill="#F89C12"/>
<rect x="440.48" y="117.81" width="7.52" height="6.21" fill="#FFC40E"/>
<rect x="447.71" y="117.81" width="36.42" height="6.21" fill="#FFDD2E"/>
<rect x="483.83" y="117.81" width="7.52" height="6.21" fill="#F89C12"/>
<rect x="491.05" y="117.81" width="36.42" height="6.21" fill="#FFC40E"/>
<rect x="527.18" y="117.81" width="7.52" height="6.21" fill="#FFDD2E"/>
<rect x="534.4" y="117.81" width="7.52" height="6.21" fill="#FFC40E"/>
<rect x="541.62" y="117.81" width="7.52" height="6.21" fill="#FFDD2E"/>
<rect x="548.85" y="117.81" width="7.52" height="6.21" fill="#FFC40E"/>
<rect x="556.07" y="117.81" width="7.52" height="6.21" fill="#F89C12"/>
<rect x="563.3" y="117.81" width="14.75" height="6.21" fill="#FFC40E"/>
<rect x="577.75" y="117.81" width="29.2" height="6.21" fill="#F89C12"/>
<rect x="606.64" y="117.81" width="21.97" height="6.21" fill="#FFC40E"/>
<rect x="628.32" y="117.81" width="7.52" height="6.21" fill="#F2551F"/>
<rect x="635.54" y="117.81" width="7.52" height="6.21" fill="#F47A16"/>
<rect x="642.77" y="117.81" width="7.52" height="6.21" fill="#F2551F"/>
<rect x="649.99" y="117.81" width="7.52" height="6.21" fill="#F89C12"/>
<rect x="657.21" y="117.81" width="7.52" height="6.21" fill="#F47A16"/>
<rect x="664.44" y="117.81" width="7.52" height="6.21" fill="#F89C12"/>
<rect x="671.66" y="117.81" width="7.52" height="6.21" fill="#FFDD2E"/>
<rect x="678.89" y="117.81" width="3.91" height="6.21" fill="#BFE58C"/>
<rect x="386.3" y="123.72" width="3.91" height="6.21" fill="#F47A16"/>
<rect x="389.91" y="123.72" width="14.75" height="6.21" fill="#F2551F"/>
<rect x="404.36" y="123.72" width="7.52" height="6.21" fill="#F89C12"/>
<rect x="411.59" y="123.72" width="7.52" height="6.21" fill="#F47A16"/>
<rect x="418.81" y="123.72" width="14.75" height="6.21" fill="#F89C12"/>
<rect x="433.26" y="123.72" width="7.52" height="6.21" fill="#F47A16"/>
<rect x="440.48" y="123.72" width="21.97" height="6.21" fill="#F89C12"/>
<rect x="462.16" y="123.72" width="7.52" height="6.21" fill="#FFC40E"/>
<rect x="469.38" y="123.72" width="14.75" height="6.21" fill="#F89C12"/>
<rect x="483.83" y="123.72" width="7.52" height="6.21" fill="#F47A16"/>
<rect x="491.05" y="123.72" width="14.75" height="6.21" fill="#F89C12"/>
<rect x="505.5" y="123.72" width="7.52" height="6.21" fill="#F47A16"/>
<rect x="512.73" y="123.72" width="43.65" height="6.21" fill="#F89C12"/>
<rect x="556.07" y="123.72" width="7.52" height="6.21" fill="#F47A16"/>
<rect x="563.3" y="123.72" width="7.52" height="6.21" fill="#F89C12"/>
<rect x="570.52" y="123.72" width="7.52" height="6.21" fill="#F47A16"/>
<rect x="577.75" y="123.72" width="14.75" height="6.21" fill="#F2551F"/>
<rect x="592.2" y="123.72" width="14.75" height="6.21" fill="#F47A16"/>
<rect x="606.64" y="123.72" width="21.97" height="6.21" fill="#F89C12"/>
<rect x="628.32" y="123.72" width="7.52" height="6.21" fill="#A3252E"/>
<rect x="635.54" y="123.72" width="14.75" height="6.21" fill="#DC1F2A"/>
<rect x="649.99" y="123.72" width="7.52" height="6.21" fill="#F47A16"/>
<rect x="657.21" y="123.72" width="14.75" height="6.21" fill="#F2551F"/>
<rect x="671.66" y="123.72" width="7.52" height="6.21" fill="#F89C12"/>
<rect x="678.89" y="123.72" width="3.91" height="6.21" fill="#FFDD2E"/>
<rect x="386.3" y="129.63" width="3.91" height="6.21" fill="#F2551F"/>
<rect x="389.91" y="129.63" width="14.75" height="6.21" fill="#DC1F2A"/>
<rect x="404.36" y="129.63" width="14.75" height="6.21" fill="#F2551F"/>
<rect x="418.81" y="129.63" width="14.75" height="6.21" fill="#F47A16"/>
<rect x="433.26" y="129.63" width="7.52" height="6.21" fill="#DC1F2A"/>
<rect x="440.48" y="129.63" width="58.1" height="6.21" fill="#F2551F"/>
<rect x="498.28" y="129.63" width="21.97" height="6.21" fill="#DC1F2A"/>
<rect x="519.95" y="129.63" width="7.52" height="6.21" fill="#A3252E"/>
<rect x="527.18" y="129.63" width="7.52" height="6.21" fill="#F47A16"/>
<rect x="534.4" y="129.63" width="21.97" height="6.21" fill="#DC1F2A"/>
<rect x="556.07" y="129.63" width="7.52" height="6.21" fill="#A3252E"/>
<rect x="563.3" y="129.63" width="7.52" height="6.21" fill="#DC1F2A"/>
<rect x="570.52" y="129.63" width="36.42" height="6.21" fill="#A3252E"/>
<rect x="606.64" y="129.63" width="21.97" height="6.21" fill="#F2551F"/>
<rect x="628.32" y="129.63" width="21.97" height="6.21" fill="#A3252E"/>
<rect x="649.99" y="129.63" width="7.52" height="6.21" fill="#DC1F2A"/>
<rect x="657.21" y="129.63" width="14.75" height="6.21" fill="#A3252E"/>
<rect x="671.66" y="129.63" width="7.52" height="6.21" fill="#F2551F"/>
<rect x="678.89" y="129.63" width="3.91" height="6.21" fill="#DC1F2A"/>
<rect x="386.3" y="135.54" width="11.14" height="3.26" fill="#DC1F2A"/>
<rect x="397.14" y="135.54" width="7.52" height="3.26" fill="#A3252E"/>
<rect x="404.36" y="135.54" width="29.2" height="3.26" fill="#DC1F2A"/>
<rect x="433.26" y="135.54" width="249.54" height="3.26" fill="#A3252E"/>
</g>
<rect x="386.3" y="20.3" width="296.2" height="118.2" fill="none" stroke="#222" stroke-width="0.55"/>
<path d="M386.3 138.5v1.5M386.3 20.3v-1.5M393.52 138.5v1.5M393.52 20.3v-1.5M400.75 138.5v1.5M400.75 20.3v-1.5M407.97 138.5v2.8M407.97 20.3v-2.8M415.2 138.5v1.5M415.2 20.3v-1.5M422.42 138.5v1.5M422.42 20.3v-1.5M429.65 138.5v1.5M429.65 20.3v-1.5M436.87 138.5v1.5M436.87 20.3v-1.5M444.1 138.5v2.8M444.1 20.3v-2.8M451.32 138.5v1.5M451.32 20.3v-1.5M458.54 138.5v1.5M458.54 20.3v-1.5M465.77 138.5v1.5M465.77 20.3v-1.5M472.99 138.5v1.5M472.99 20.3v-1.5M480.22 138.5v2.8M480.22 20.3v-2.8M487.44 138.5v1.5M487.44 20.3v-1.5M494.67 138.5v1.5M494.67 20.3v-1.5M501.89 138.5v1.5M501.89 20.3v-1.5M509.11 138.5v1.5M509.11 20.3v-1.5M516.34 138.5v2.8M516.34 20.3v-2.8M523.56 138.5v1.5M523.56 20.3v-1.5M530.79 138.5v1.5M530.79 20.3v-1.5M538.01 138.5v1.5M538.01 20.3v-1.5M545.24 138.5v1.5M545.24 20.3v-1.5M552.46 138.5v2.8M552.46 20.3v-2.8M559.69 138.5v1.5M559.69 20.3v-1.5M566.91 138.5v1.5M566.91 20.3v-1.5M574.13 138.5v1.5M574.13 20.3v-1.5M581.36 138.5v1.5M581.36 20.3v-1.5M588.58 138.5v2.8M588.58 20.3v-2.8M595.81 138.5v1.5M595.81 20.3v-1.5M603.03 138.5v1.5M603.03 20.3v-1.5M610.26 138.5v1.5M610.26 20.3v-1.5M617.48 138.5v1.5M617.48 20.3v-1.5M624.7 138.5v2.8M624.7 20.3v-2.8M631.93 138.5v1.5M631.93 20.3v-1.5M639.15 138.5v1.5M639.15 20.3v-1.5M646.38 138.5v1.5M646.38 20.3v-1.5M653.6 138.5v1.5M653.6 20.3v-1.5M660.83 138.5v2.8M660.83 20.3v-2.8M668.05 138.5v1.5M668.05 20.3v-1.5M675.28 138.5v1.5M675.28 20.3v-1.5M682.5 138.5v1.5M682.5 20.3v-1.5M386.3 138.5h-2.8M682.5 138.5h2.8M386.3 114.86h-2.8M682.5 114.86h2.8M386.3 91.22h-2.8M682.5 91.22h2.8M386.3 67.58h-2.8M682.5 67.58h2.8M386.3 43.94h-2.8M682.5 43.94h2.8M386.3 20.3h-2.8M682.5 20.3h2.8" stroke="#3a3a3a" stroke-width="0.5" fill="none"/>
<path d="M387.3 79.4H682.5" stroke="#0a1a30" stroke-width="1.1" stroke-dasharray="1.1 2.45" fill="none" opacity="0.9"/>
<path d="M387.3 26.21H682.5" stroke="#0a1a30" stroke-width="1.1" stroke-dasharray="1.1 2.45" fill="none" opacity="0.9"/>
<text x="407.97"  y="152.3" font-size="11.4" text-anchor="middle" fill="#000">1985</text>
<text x="444.1"  y="152.3" font-size="11.4" text-anchor="middle" fill="#000">1990</text>
<text x="480.22"  y="152.3" font-size="11.4" text-anchor="middle" fill="#000">1995</text>
<text x="516.34"  y="152.3" font-size="11.4" text-anchor="middle" fill="#000">2000</text>
<text x="552.46"  y="152.3" font-size="11.4" text-anchor="middle" fill="#000">2005</text>
<text x="588.58"  y="152.3" font-size="11.4" text-anchor="middle" fill="#000">2010</text>
<text x="624.7"  y="152.3" font-size="11.4" text-anchor="middle" fill="#000">2015</text>
<text x="660.83"  y="152.3" font-size="11.4" text-anchor="middle" fill="#000">2020</text>
<clipPath id="clipb"><rect x="386.3" y="20.3" width="296.2" height="118.2"/></clipPath><path d="M386.3 44.6 L393.52 45.3 L400.75 44 L407.97 43.8 L415.2 44.9 L422.42 43.2 L429.65 45.5 L436.87 47.9 L444.1 47.5 L451.32 47.6 L458.54 46.3 L465.77 43.7 L472.99 45.3 L480.22 44.6 L487.44 48.7 L494.67 47.1 L501.89 47.1 L509.11 45.5 L516.34 48.1 L523.56 46.5 L530.79 48.1 L538.01 50 L545.24 47.7 L552.46 49 L559.69 49.8 L566.91 50.8 L574.13 50.2 L581.36 47.4 L588.58 50 L595.81 48.4 L603.03 47 L610.26 50.4 L617.48 49.1 L624.7 47.7 L631.93 44.3 L639.15 40.3 L646.38 39.3 L653.6 40.3 L660.83 41.3 L668.05 44 L675.28 41.8 L682.5 39.4" fill="none" stroke="#0a0a0a" stroke-width="2.1" stroke-linejoin="round" stroke-linecap="butt" clip-path="url(#clipb)"/>
<g shape-rendering="crispEdges">
<rect x="63" y="184.2" width="90.45" height="3.25" fill="#1A6FC6"/>
<rect x="153.15" y="184.2" width="7.51" height="3.25" fill="#2157B2"/>
<rect x="160.36" y="184.2" width="7.51" height="3.25" fill="#1A6FC6"/>
<rect x="167.58" y="184.2" width="14.72" height="3.25" fill="#2157B2"/>
<rect x="182" y="184.2" width="14.72" height="3.25" fill="#1A6FC6"/>
<rect x="196.43" y="184.2" width="7.51" height="3.25" fill="#2157B2"/>
<rect x="203.64" y="184.2" width="14.72" height="3.25" fill="#1A6FC6"/>
<rect x="218.06" y="184.2" width="7.51" height="3.25" fill="#2157B2"/>
<rect x="225.27" y="184.2" width="29.15" height="3.25" fill="#1A6FC6"/>
<rect x="254.12" y="184.2" width="21.94" height="3.25" fill="#2157B2"/>
<rect x="275.76" y="184.2" width="83.24" height="3.25" fill="#1A6FC6"/>
<rect x="63" y="187.15" width="39.97" height="6.21" fill="#1A6FC6"/>
<rect x="102.67" y="187.15" width="7.51" height="6.21" fill="#0E8CD8"/>
<rect x="109.88" y="187.15" width="36.36" height="6.21" fill="#1A6FC6"/>
<rect x="145.94" y="187.15" width="7.51" height="6.21" fill="#0E8CD8"/>
<rect x="153.15" y="187.15" width="72.42" height="6.21" fill="#1A6FC6"/>
<rect x="225.27" y="187.15" width="7.51" height="6.21" fill="#0E8CD8"/>
<rect x="232.49" y="187.15" width="126.51" height="6.21" fill="#1A6FC6"/>
<rect x="63" y="193.06" width="241.91" height="6.21" fill="#0E8CD8"/>
<rect x="304.61" y="193.06" width="54.39" height="6.21" fill="#1A6FC6"/>
<rect x="63" y="198.97" width="47.18" height="6.21" fill="#05A1E8"/>
<rect x="109.88" y="198.97" width="7.51" height="6.21" fill="#0E8CD8"/>
<rect x="117.09" y="198.97" width="50.79" height="6.21" fill="#05A1E8"/>
<rect x="167.58" y="198.97" width="7.51" height="6.21" fill="#0E8CD8"/>
<rect x="174.79" y="198.97" width="130.12" height="6.21" fill="#05A1E8"/>
<rect x="304.61" y="198.97" width="54.39" height="6.21" fill="#1A6FC6"/>
<rect x="63" y="204.88" width="3.91" height="6.21" fill="#05A1E8"/>
<rect x="66.61" y="204.88" width="43.57" height="6.21" fill="#1CB2EE"/>
<rect x="109.88" y="204.88" width="7.51" height="6.21" fill="#05A1E8"/>
<rect x="117.09" y="204.88" width="7.51" height="6.21" fill="#1CB2EE"/>
<rect x="124.3" y="204.88" width="7.51" height="6.21" fill="#05A1E8"/>
<rect x="131.52" y="204.88" width="29.15" height="6.21" fill="#1CB2EE"/>
<rect x="160.36" y="204.88" width="21.94" height="6.21" fill="#05A1E8"/>
<rect x="182" y="204.88" width="14.72" height="6.21" fill="#1CB2EE"/>
<rect x="196.43" y="204.88" width="29.15" height="6.21" fill="#05A1E8"/>
<rect x="225.27" y="204.88" width="29.15" height="6.21" fill="#1CB2EE"/>
<rect x="254.12" y="204.88" width="21.94" height="6.21" fill="#05A1E8"/>
<rect x="275.76" y="204.88" width="7.51" height="6.21" fill="#1CB2EE"/>
<rect x="282.97" y="204.88" width="21.94" height="6.21" fill="#05A1E8"/>
<rect x="304.61" y="204.88" width="7.51" height="6.21" fill="#0E8CD8"/>
<rect x="311.82" y="204.88" width="7.51" height="6.21" fill="#1A6FC6"/>
<rect x="319.03" y="204.88" width="39.97" height="6.21" fill="#0E8CD8"/>
<rect x="63" y="210.79" width="18.33" height="6.21" fill="#1CB2EE"/>
<rect x="81.03" y="210.79" width="7.51" height="6.21" fill="#33B8CC"/>
<rect x="88.24" y="210.79" width="151.76" height="6.21" fill="#1CB2EE"/>
<rect x="239.7" y="210.79" width="7.51" height="6.21" fill="#33B8CC"/>
<rect x="246.91" y="210.79" width="58" height="6.21" fill="#1CB2EE"/>
<rect x="304.61" y="210.79" width="54.39" height="6.21" fill="#0E8CD8"/>
<rect x="63" y="216.7" width="198.64" height="6.21" fill="#33B8CC"/>
<rect x="261.34" y="216.7" width="7.51" height="6.21" fill="#1CB2EE"/>
<rect x="268.55" y="216.7" width="36.36" height="6.21" fill="#33B8CC"/>
<rect x="304.61" y="216.7" width="54.39" height="6.21" fill="#0E8CD8"/>
<rect x="63" y="222.61" width="47.18" height="6.21" fill="#62C9C8"/>
<rect x="109.88" y="222.61" width="21.94" height="6.21" fill="#33B8CC"/>
<rect x="131.52" y="222.61" width="29.15" height="6.21" fill="#62C9C8"/>
<rect x="160.36" y="222.61" width="36.36" height="6.21" fill="#33B8CC"/>
<rect x="196.43" y="222.61" width="7.51" height="6.21" fill="#62C9C8"/>
<rect x="203.64" y="222.61" width="7.51" height="6.21" fill="#33B8CC"/>
<rect x="210.85" y="222.61" width="7.51" height="6.21" fill="#62C9C8"/>
<rect x="218.06" y="222.61" width="7.51" height="6.21" fill="#33B8CC"/>
<rect x="225.27" y="222.61" width="36.36" height="6.21" fill="#62C9C8"/>
<rect x="261.34" y="222.61" width="7.51" height="6.21" fill="#33B8CC"/>
<rect x="268.55" y="222.61" width="14.72" height="6.21" fill="#62C9C8"/>
<rect x="282.97" y="222.61" width="14.72" height="6.21" fill="#33B8CC"/>
<rect x="297.4" y="222.61" width="7.51" height="6.21" fill="#62C9C8"/>
<rect x="304.61" y="222.61" width="36.36" height="6.21" fill="#0E8CD8"/>
<rect x="340.67" y="222.61" width="18.33" height="6.21" fill="#05A1E8"/>
<rect x="63" y="228.52" width="3.91" height="6.21" fill="#62C9C8"/>
<rect x="66.61" y="228.52" width="7.51" height="6.21" fill="#97DCB7"/>
<rect x="73.82" y="228.52" width="79.63" height="6.21" fill="#62C9C8"/>
<rect x="153.15" y="228.52" width="7.51" height="6.21" fill="#97DCB7"/>
<rect x="160.36" y="228.52" width="79.63" height="6.21" fill="#62C9C8"/>
<rect x="239.7" y="228.52" width="14.72" height="6.21" fill="#97DCB7"/>
<rect x="254.12" y="228.52" width="50.79" height="6.21" fill="#62C9C8"/>
<rect x="304.61" y="228.52" width="7.51" height="6.21" fill="#05A1E8"/>
<rect x="311.82" y="228.52" width="7.51" height="6.21" fill="#0E8CD8"/>
<rect x="319.03" y="228.52" width="39.97" height="6.21" fill="#05A1E8"/>
<rect x="63" y="234.44" width="54.39" height="6.21" fill="#97DCB7"/>
<rect x="117.09" y="234.44" width="7.51" height="6.21" fill="#62C9C8"/>
<rect x="124.3" y="234.44" width="43.57" height="6.21" fill="#97DCB7"/>
<rect x="167.58" y="234.44" width="7.51" height="6.21" fill="#62C9C8"/>
<rect x="174.79" y="234.44" width="14.72" height="6.21" fill="#97DCB7"/>
<rect x="189.21" y="234.44" width="7.51" height="6.21" fill="#62C9C8"/>
<rect x="196.43" y="234.44" width="21.94" height="6.21" fill="#97DCB7"/>
<rect x="218.06" y="234.44" width="7.51" height="6.21" fill="#62C9C8"/>
<rect x="225.27" y="234.44" width="14.72" height="6.21" fill="#97DCB7"/>
<rect x="239.7" y="234.44" width="14.72" height="6.21" fill="#BFE58C"/>
<rect x="254.12" y="234.44" width="50.79" height="6.21" fill="#97DCB7"/>
<rect x="304.61" y="234.44" width="7.51" height="6.21" fill="#1CB2EE"/>
<rect x="311.82" y="234.44" width="36.36" height="6.21" fill="#05A1E8"/>
<rect x="347.88" y="234.44" width="11.12" height="6.21" fill="#1CB2EE"/>
<rect x="63" y="240.34" width="11.12" height="6.21" fill="#BFE58C"/>
<rect x="73.82" y="240.34" width="7.51" height="6.21" fill="#97DCB7"/>
<rect x="81.03" y="240.34" width="21.94" height="6.21" fill="#BFE58C"/>
<rect x="102.67" y="240.34" width="36.36" height="6.21" fill="#97DCB7"/>
<rect x="138.73" y="240.34" width="7.51" height="6.21" fill="#BFE58C"/>
<rect x="145.94" y="240.34" width="7.51" height="6.21" fill="#97DCB7"/>
<rect x="153.15" y="240.34" width="7.51" height="6.21" fill="#BFE58C"/>
<rect x="160.36" y="240.34" width="50.79" height="6.21" fill="#97DCB7"/>
<rect x="210.85" y="240.34" width="7.51" height="6.21" fill="#BFE58C"/>
<rect x="218.06" y="240.34" width="7.51" height="6.21" fill="#97DCB7"/>
<rect x="225.27" y="240.34" width="14.72" height="6.21" fill="#BFE58C"/>
<rect x="239.7" y="240.34" width="14.72" height="6.21" fill="#C9E24B"/>
<rect x="254.12" y="240.34" width="50.79" height="6.21" fill="#BFE58C"/>
<rect x="304.61" y="240.34" width="43.57" height="6.21" fill="#1CB2EE"/>
<rect x="347.88" y="240.34" width="11.12" height="6.21" fill="#33B8CC"/>
<rect x="63" y="246.25" width="90.45" height="6.21" fill="#BFE58C"/>
<rect x="153.15" y="246.25" width="7.51" height="6.21" fill="#C9E24B"/>
<rect x="160.36" y="246.25" width="7.51" height="6.21" fill="#BFE58C"/>
<rect x="167.58" y="246.25" width="14.72" height="6.21" fill="#97DCB7"/>
<rect x="182" y="246.25" width="7.51" height="6.21" fill="#BFE58C"/>
<rect x="189.21" y="246.25" width="7.51" height="6.21" fill="#97DCB7"/>
<rect x="196.43" y="246.25" width="21.94" height="6.21" fill="#BFE58C"/>
<rect x="218.06" y="246.25" width="7.51" height="6.21" fill="#97DCB7"/>
<rect x="225.27" y="246.25" width="21.94" height="6.21" fill="#C9E24B"/>
<rect x="246.91" y="246.25" width="7.51" height="6.21" fill="#F4F020"/>
<rect x="254.12" y="246.25" width="50.79" height="6.21" fill="#C9E24B"/>
<rect x="304.61" y="246.25" width="7.51" height="6.21" fill="#33B8CC"/>
<rect x="311.82" y="246.25" width="36.36" height="6.21" fill="#1CB2EE"/>
<rect x="347.88" y="246.25" width="7.51" height="6.21" fill="#62C9C8"/>
<rect x="355.09" y="246.25" width="3.91" height="6.21" fill="#33B8CC"/>
<rect x="63" y="252.16" width="11.12" height="6.21" fill="#C9E24B"/>
<rect x="73.82" y="252.16" width="7.51" height="6.21" fill="#BFE58C"/>
<rect x="81.03" y="252.16" width="29.15" height="6.21" fill="#C9E24B"/>
<rect x="109.88" y="252.16" width="21.94" height="6.21" fill="#BFE58C"/>
<rect x="131.52" y="252.16" width="21.94" height="6.21" fill="#C9E24B"/>
<rect x="153.15" y="252.16" width="7.51" height="6.21" fill="#F4F020"/>
<rect x="160.36" y="252.16" width="7.51" height="6.21" fill="#BFE58C"/>
<rect x="167.58" y="252.16" width="7.51" height="6.21" fill="#97DCB7"/>
<rect x="174.79" y="252.16" width="14.72" height="6.21" fill="#BFE58C"/>
<rect x="189.21" y="252.16" width="7.51" height="6.21" fill="#97DCB7"/>
<rect x="196.43" y="252.16" width="14.72" height="6.21" fill="#BFE58C"/>
<rect x="210.85" y="252.16" width="7.51" height="6.21" fill="#C9E24B"/>
<rect x="218.06" y="252.16" width="7.51" height="6.21" fill="#BFE58C"/>
<rect x="225.27" y="252.16" width="7.51" height="6.21" fill="#C9E24B"/>
<rect x="232.49" y="252.16" width="14.72" height="6.21" fill="#F4F020"/>
<rect x="246.91" y="252.16" width="7.51" height="6.21" fill="#FFDD2E"/>
<rect x="254.12" y="252.16" width="50.79" height="6.21" fill="#F4F020"/>
<rect x="304.61" y="252.16" width="7.51" height="6.21" fill="#97DCB7"/>
<rect x="311.82" y="252.16" width="14.72" height="6.21" fill="#33B8CC"/>
<rect x="326.25" y="252.16" width="21.94" height="6.21" fill="#62C9C8"/>
<rect x="347.88" y="252.16" width="7.51" height="6.21" fill="#BFE58C"/>
<rect x="355.09" y="252.16" width="3.91" height="6.21" fill="#97DCB7"/>
<rect x="63" y="258.07" width="90.45" height="6.21" fill="#C9E24B"/>
<rect x="153.15" y="258.07" width="7.51" height="6.21" fill="#F4F020"/>
<rect x="160.36" y="258.07" width="7.51" height="6.21" fill="#C9E24B"/>
<rect x="167.58" y="258.07" width="14.72" height="6.21" fill="#BFE58C"/>
<rect x="182" y="258.07" width="7.51" height="6.21" fill="#C9E24B"/>
<rect x="189.21" y="258.07" width="7.51" height="6.21" fill="#BFE58C"/>
<rect x="196.43" y="258.07" width="21.94" height="6.21" fill="#C9E24B"/>
<rect x="218.06" y="258.07" width="7.51" height="6.21" fill="#BFE58C"/>
<rect x="225.27" y="258.07" width="7.51" height="6.21" fill="#F4F020"/>
<rect x="232.49" y="258.07" width="14.72" height="6.21" fill="#FFDD2E"/>
<rect x="246.91" y="258.07" width="7.51" height="6.21" fill="#FFC40E"/>
<rect x="254.12" y="258.07" width="50.79" height="6.21" fill="#FFDD2E"/>
<rect x="304.61" y="258.07" width="7.51" height="6.21" fill="#BFE58C"/>
<rect x="311.82" y="258.07" width="7.51" height="6.21" fill="#62C9C8"/>
<rect x="319.03" y="258.07" width="7.51" height="6.21" fill="#97DCB7"/>
<rect x="326.25" y="258.07" width="21.94" height="6.21" fill="#BFE58C"/>
<rect x="347.88" y="258.07" width="7.51" height="6.21" fill="#C9E24B"/>
<rect x="355.09" y="258.07" width="3.91" height="6.21" fill="#BFE58C"/>
<rect x="63" y="263.99" width="90.45" height="6.21" fill="#F4F020"/>
<rect x="153.15" y="263.99" width="7.51" height="6.21" fill="#FFDD2E"/>
<rect x="160.36" y="263.99" width="7.51" height="6.21" fill="#F4F020"/>
<rect x="167.58" y="263.99" width="7.51" height="6.21" fill="#BFE58C"/>
<rect x="174.79" y="263.99" width="14.72" height="6.21" fill="#C9E24B"/>
<rect x="189.21" y="263.99" width="7.51" height="6.21" fill="#BFE58C"/>
<rect x="196.43" y="263.99" width="7.51" height="6.21" fill="#F4F020"/>
<rect x="203.64" y="263.99" width="7.51" height="6.21" fill="#C9E24B"/>
<rect x="210.85" y="263.99" width="7.51" height="6.21" fill="#F4F020"/>
<rect x="218.06" y="263.99" width="7.51" height="6.21" fill="#C9E24B"/>
<rect x="225.27" y="263.99" width="7.51" height="6.21" fill="#FFDD2E"/>
<rect x="232.49" y="263.99" width="7.51" height="6.21" fill="#FFC40E"/>
<rect x="239.7" y="263.99" width="14.72" height="6.21" fill="#F89C12"/>
<rect x="254.12" y="263.99" width="21.94" height="6.21" fill="#FFC40E"/>
<rect x="275.76" y="263.99" width="7.51" height="6.21" fill="#F89C12"/>
<rect x="282.97" y="263.99" width="21.94" height="6.21" fill="#FFC40E"/>
<rect x="304.61" y="263.99" width="7.51" height="6.21" fill="#F4F020"/>
<rect x="311.82" y="263.99" width="14.72" height="6.21" fill="#BFE58C"/>
<rect x="326.25" y="263.99" width="21.94" height="6.21" fill="#F4F020"/>
<rect x="347.88" y="263.99" width="7.51" height="6.21" fill="#FFDD2E"/>
<rect x="355.09" y="263.99" width="3.91" height="6.21" fill="#F4F020"/>
<rect x="63" y="269.89" width="3.91" height="6.21" fill="#F4F020"/>
<rect x="66.61" y="269.89" width="86.85" height="6.21" fill="#FFDD2E"/>
<rect x="153.15" y="269.89" width="7.51" height="6.21" fill="#FFC40E"/>
<rect x="160.36" y="269.89" width="7.51" height="6.21" fill="#FFDD2E"/>
<rect x="167.58" y="269.89" width="14.72" height="6.21" fill="#C9E24B"/>
<rect x="182" y="269.89" width="7.51" height="6.21" fill="#F4F020"/>
<rect x="189.21" y="269.89" width="7.51" height="6.21" fill="#C9E24B"/>
<rect x="196.43" y="269.89" width="7.51" height="6.21" fill="#FFDD2E"/>
<rect x="203.64" y="269.89" width="14.72" height="6.21" fill="#F4F020"/>
<rect x="218.06" y="269.89" width="7.51" height="6.21" fill="#C9E24B"/>
<rect x="225.27" y="269.89" width="7.51" height="6.21" fill="#FFDD2E"/>
<rect x="232.49" y="269.89" width="7.51" height="6.21" fill="#F89C12"/>
<rect x="239.7" y="269.89" width="7.51" height="6.21" fill="#F47A16"/>
<rect x="246.91" y="269.89" width="7.51" height="6.21" fill="#F89C12"/>
<rect x="254.12" y="269.89" width="14.72" height="6.21" fill="#FFC40E"/>
<rect x="268.55" y="269.89" width="14.72" height="6.21" fill="#F89C12"/>
<rect x="282.97" y="269.89" width="7.51" height="6.21" fill="#FFC40E"/>
<rect x="290.18" y="269.89" width="7.51" height="6.21" fill="#F89C12"/>
<rect x="297.4" y="269.89" width="7.51" height="6.21" fill="#FFC40E"/>
<rect x="304.61" y="269.89" width="7.51" height="6.21" fill="#FFDD2E"/>
<rect x="311.82" y="269.89" width="14.72" height="6.21" fill="#F4F020"/>
<rect x="326.25" y="269.89" width="14.72" height="6.21" fill="#FFC40E"/>
<rect x="340.67" y="269.89" width="7.51" height="6.21" fill="#FFDD2E"/>
<rect x="347.88" y="269.89" width="11.12" height="6.21" fill="#FFC40E"/>
<rect x="63" y="275.81" width="3.91" height="6.21" fill="#FFDD2E"/>
<rect x="66.61" y="275.81" width="36.36" height="6.21" fill="#FFC40E"/>
<rect x="102.67" y="275.81" width="7.51" height="6.21" fill="#F89C12"/>
<rect x="109.88" y="275.81" width="14.72" height="6.21" fill="#FFC40E"/>
<rect x="124.3" y="275.81" width="7.51" height="6.21" fill="#F89C12"/>
<rect x="131.52" y="275.81" width="14.72" height="6.21" fill="#FFC40E"/>
<rect x="145.94" y="275.81" width="14.72" height="6.21" fill="#F89C12"/>
<rect x="160.36" y="275.81" width="7.51" height="6.21" fill="#FFC40E"/>
<rect x="167.58" y="275.81" width="7.51" height="6.21" fill="#F4F020"/>
<rect x="174.79" y="275.81" width="14.72" height="6.21" fill="#FFDD2E"/>
<rect x="189.21" y="275.81" width="7.51" height="6.21" fill="#F4F020"/>
<rect x="196.43" y="275.81" width="14.72" height="6.21" fill="#FFC40E"/>
<rect x="210.85" y="275.81" width="7.51" height="6.21" fill="#FFDD2E"/>
<rect x="218.06" y="275.81" width="7.51" height="6.21" fill="#F4F020"/>
<rect x="225.27" y="275.81" width="7.51" height="6.21" fill="#FFC40E"/>
<rect x="232.49" y="275.81" width="7.51" height="6.21" fill="#F47A16"/>
<rect x="239.7" y="275.81" width="7.51" height="6.21" fill="#F2551F"/>
<rect x="246.91" y="275.81" width="7.51" height="6.21" fill="#F47A16"/>
<rect x="254.12" y="275.81" width="14.72" height="6.21" fill="#FFC40E"/>
<rect x="268.55" y="275.81" width="36.36" height="6.21" fill="#F89C12"/>
<rect x="304.61" y="275.81" width="14.72" height="6.21" fill="#FFC40E"/>
<rect x="319.03" y="275.81" width="7.51" height="6.21" fill="#FFDD2E"/>
<rect x="326.25" y="275.81" width="7.51" height="6.21" fill="#F47A16"/>
<rect x="333.46" y="275.81" width="7.51" height="6.21" fill="#F89C12"/>
<rect x="340.67" y="275.81" width="7.51" height="6.21" fill="#FFC40E"/>
<rect x="347.88" y="275.81" width="11.12" height="6.21" fill="#F89C12"/>
<rect x="63" y="281.71" width="3.91" height="6.21" fill="#F89C12"/>
<rect x="66.61" y="281.71" width="7.51" height="6.21" fill="#F2551F"/>
<rect x="73.82" y="281.71" width="7.51" height="6.21" fill="#F47A16"/>
<rect x="81.03" y="281.71" width="7.51" height="6.21" fill="#F2551F"/>
<rect x="88.24" y="281.71" width="43.57" height="6.21" fill="#F47A16"/>
<rect x="131.52" y="281.71" width="7.51" height="6.21" fill="#F89C12"/>
<rect x="138.73" y="281.71" width="14.72" height="6.21" fill="#F47A16"/>
<rect x="153.15" y="281.71" width="7.51" height="6.21" fill="#F2551F"/>
<rect x="160.36" y="281.71" width="7.51" height="6.21" fill="#F89C12"/>
<rect x="167.58" y="281.71" width="7.51" height="6.21" fill="#FFC40E"/>
<rect x="174.79" y="281.71" width="14.72" height="6.21" fill="#F89C12"/>
<rect x="189.21" y="281.71" width="7.51" height="6.21" fill="#FFC40E"/>
<rect x="196.43" y="281.71" width="7.51" height="6.21" fill="#F47A16"/>
<rect x="203.64" y="281.71" width="14.72" height="6.21" fill="#F89C12"/>
<rect x="218.06" y="281.71" width="14.72" height="6.21" fill="#FFC40E"/>
<rect x="232.49" y="281.71" width="7.51" height="6.21" fill="#F47A16"/>
<rect x="239.7" y="281.71" width="7.51" height="6.21" fill="#F2551F"/>
<rect x="246.91" y="281.71" width="7.51" height="6.21" fill="#F89C12"/>
<rect x="254.12" y="281.71" width="14.72" height="6.21" fill="#FFC40E"/>
<rect x="268.55" y="281.71" width="7.51" height="6.21" fill="#DC1F2A"/>
<rect x="275.76" y="281.71" width="7.51" height="6.21" fill="#F2551F"/>
<rect x="282.97" y="281.71" width="7.51" height="6.21" fill="#DC1F2A"/>
<rect x="290.18" y="281.71" width="7.51" height="6.21" fill="#F89C12"/>
<rect x="297.4" y="281.71" width="29.15" height="6.21" fill="#FFC40E"/>
<rect x="326.25" y="281.71" width="7.51" height="6.21" fill="#F89C12"/>
<rect x="333.46" y="281.71" width="7.51" height="6.21" fill="#FFDD2E"/>
<rect x="340.67" y="281.71" width="7.51" height="6.21" fill="#FFC40E"/>
<rect x="347.88" y="281.71" width="7.51" height="6.21" fill="#A3252E"/>
<rect x="355.09" y="281.71" width="3.91" height="6.21" fill="#F89C12"/>
<rect x="63" y="287.62" width="47.18" height="6.21" fill="#A3252E"/>
<rect x="109.88" y="287.62" width="14.72" height="6.21" fill="#DC1F2A"/>
<rect x="124.3" y="287.62" width="7.51" height="6.21" fill="#A3252E"/>
<rect x="131.52" y="287.62" width="14.72" height="6.21" fill="#DC1F2A"/>
<rect x="145.94" y="287.62" width="14.72" height="6.21" fill="#A3252E"/>
<rect x="160.36" y="287.62" width="50.79" height="6.21" fill="#DC1F2A"/>
<rect x="210.85" y="287.62" width="7.51" height="6.21" fill="#A3252E"/>
<rect x="218.06" y="287.62" width="7.51" height="6.21" fill="#F2551F"/>
<rect x="225.27" y="287.62" width="7.51" height="6.21" fill="#F47A16"/>
<rect x="232.49" y="287.62" width="7.51" height="6.21" fill="#F2551F"/>
<rect x="239.7" y="287.62" width="7.51" height="6.21" fill="#A3252E"/>
<rect x="246.91" y="287.62" width="7.51" height="6.21" fill="#F2551F"/>
<rect x="254.12" y="287.62" width="7.51" height="6.21" fill="#F89C12"/>
<rect x="261.34" y="287.62" width="7.51" height="6.21" fill="#FFC40E"/>
<rect x="268.55" y="287.62" width="14.72" height="6.21" fill="#A3252E"/>
<rect x="282.97" y="287.62" width="7.51" height="6.21" fill="#F2551F"/>
<rect x="290.18" y="287.62" width="7.51" height="6.21" fill="#F47A16"/>
<rect x="297.4" y="287.62" width="7.51" height="6.21" fill="#F2551F"/>
<rect x="304.61" y="287.62" width="14.72" height="6.21" fill="#FFDD2E"/>
<rect x="319.03" y="287.62" width="7.51" height="6.21" fill="#FFC40E"/>
<rect x="326.25" y="287.62" width="7.51" height="6.21" fill="#F89C12"/>
<rect x="333.46" y="287.62" width="7.51" height="6.21" fill="#F47A16"/>
<rect x="340.67" y="287.62" width="7.51" height="6.21" fill="#62C9C8"/>
<rect x="347.88" y="287.62" width="11.12" height="6.21" fill="#A3252E"/>
<rect x="63" y="293.53" width="184.21" height="6.21" fill="#A3252E"/>
<rect x="246.91" y="293.53" width="7.51" height="6.21" fill="#DC1F2A"/>
<rect x="254.12" y="293.53" width="7.51" height="6.21" fill="#F2551F"/>
<rect x="261.34" y="293.53" width="7.51" height="6.21" fill="#DC1F2A"/>
<rect x="268.55" y="293.53" width="21.94" height="6.21" fill="#A3252E"/>
<rect x="290.18" y="293.53" width="7.51" height="6.21" fill="#DC1F2A"/>
<rect x="297.4" y="293.53" width="7.51" height="6.21" fill="#F2551F"/>
<rect x="304.61" y="293.53" width="21.94" height="6.21" fill="#FFC40E"/>
<rect x="326.25" y="293.53" width="7.51" height="6.21" fill="#F89C12"/>
<rect x="333.46" y="293.53" width="7.51" height="6.21" fill="#F47A16"/>
<rect x="340.67" y="293.53" width="7.51" height="6.21" fill="#F89C12"/>
<rect x="347.88" y="293.53" width="11.12" height="6.21" fill="#A3252E"/>
<rect x="63" y="299.44" width="234.7" height="3.25" fill="#A3252E"/>
<rect x="297.4" y="299.44" width="7.51" height="3.25" fill="#F2551F"/>
<rect x="304.61" y="299.44" width="7.51" height="3.25" fill="#F89C12"/>
<rect x="311.82" y="299.44" width="14.72" height="3.25" fill="#FFC40E"/>
<rect x="326.25" y="299.44" width="7.51" height="3.25" fill="#F89C12"/>
<rect x="333.46" y="299.44" width="7.51" height="3.25" fill="#F2551F"/>
<rect x="340.67" y="299.44" width="18.33" height="3.25" fill="#A3252E"/>
</g>
<rect x="63" y="184.2" width="295.7" height="118.2" fill="none" stroke="#222" stroke-width="0.55"/>
<path d="M63 302.4v1.5M63 184.2v-1.5M70.21 302.4v1.5M70.21 184.2v-1.5M77.42 302.4v1.5M77.42 184.2v-1.5M84.64 302.4v2.8M84.64 184.2v-2.8M91.85 302.4v1.5M91.85 184.2v-1.5M99.06 302.4v1.5M99.06 184.2v-1.5M106.27 302.4v1.5M106.27 184.2v-1.5M113.49 302.4v1.5M113.49 184.2v-1.5M120.7 302.4v2.8M120.7 184.2v-2.8M127.91 302.4v1.5M127.91 184.2v-1.5M135.12 302.4v1.5M135.12 184.2v-1.5M142.33 302.4v1.5M142.33 184.2v-1.5M149.55 302.4v1.5M149.55 184.2v-1.5M156.76 302.4v2.8M156.76 184.2v-2.8M163.97 302.4v1.5M163.97 184.2v-1.5M171.18 302.4v1.5M171.18 184.2v-1.5M178.4 302.4v1.5M178.4 184.2v-1.5M185.61 302.4v1.5M185.61 184.2v-1.5M192.82 302.4v2.8M192.82 184.2v-2.8M200.03 302.4v1.5M200.03 184.2v-1.5M207.24 302.4v1.5M207.24 184.2v-1.5M214.46 302.4v1.5M214.46 184.2v-1.5M221.67 302.4v1.5M221.67 184.2v-1.5M228.88 302.4v2.8M228.88 184.2v-2.8M236.09 302.4v1.5M236.09 184.2v-1.5M243.3 302.4v1.5M243.3 184.2v-1.5M250.52 302.4v1.5M250.52 184.2v-1.5M257.73 302.4v1.5M257.73 184.2v-1.5M264.94 302.4v2.8M264.94 184.2v-2.8M272.15 302.4v1.5M272.15 184.2v-1.5M279.37 302.4v1.5M279.37 184.2v-1.5M286.58 302.4v1.5M286.58 184.2v-1.5M293.79 302.4v1.5M293.79 184.2v-1.5M301 302.4v2.8M301 184.2v-2.8M308.21 302.4v1.5M308.21 184.2v-1.5M315.43 302.4v1.5M315.43 184.2v-1.5M322.64 302.4v1.5M322.64 184.2v-1.5M329.85 302.4v1.5M329.85 184.2v-1.5M337.06 302.4v2.8M337.06 184.2v-2.8M344.28 302.4v1.5M344.28 184.2v-1.5M351.49 302.4v1.5M351.49 184.2v-1.5M358.7 302.4v1.5M358.7 184.2v-1.5M63 302.4h-2.8M358.7 302.4h2.8M63 278.76h-2.8M358.7 278.76h2.8M63 255.12h-2.8M358.7 255.12h2.8M63 231.48h-2.8M358.7 231.48h2.8M63 207.84h-2.8M358.7 207.84h2.8M63 184.2h-2.8M358.7 184.2h2.8" stroke="#3a3a3a" stroke-width="0.5" fill="none"/>
<path d="M64 243.3H358.7" stroke="#0a1a30" stroke-width="1.1" stroke-dasharray="1.1 2.45" fill="none" opacity="0.9"/>
<path d="M64 190.11H358.7" stroke="#0a1a30" stroke-width="1.1" stroke-dasharray="1.1 2.45" fill="none" opacity="0.9"/>
<text x="84.64"  y="316.2" font-size="11.4" text-anchor="middle" fill="#000">1985</text>
<text x="120.7"  y="316.2" font-size="11.4" text-anchor="middle" fill="#000">1990</text>
<text x="156.76"  y="316.2" font-size="11.4" text-anchor="middle" fill="#000">1995</text>
<text x="192.82"  y="316.2" font-size="11.4" text-anchor="middle" fill="#000">2000</text>
<text x="228.88"  y="316.2" font-size="11.4" text-anchor="middle" fill="#000">2005</text>
<text x="264.94"  y="316.2" font-size="11.4" text-anchor="middle" fill="#000">2010</text>
<text x="301"  y="316.2" font-size="11.4" text-anchor="middle" fill="#000">2015</text>
<text x="337.06"  y="316.2" font-size="11.4" text-anchor="middle" fill="#000">2020</text>
<text x="58" y="306.45" font-size="11.4" text-anchor="end" fill="#000">0</text>
<text x="58" y="282.81" font-size="11.4" text-anchor="end" fill="#000">20</text>
<text x="58" y="259.17" font-size="11.4" text-anchor="end" fill="#000">40</text>
<text x="58" y="235.53" font-size="11.4" text-anchor="end" fill="#000">60</text>
<text x="58" y="211.89" font-size="11.4" text-anchor="end" fill="#000">80</text>
<text x="58" y="188.25" font-size="11.4" text-anchor="end" fill="#000">100</text>
<g shape-rendering="crispEdges">
<rect x="386.3" y="184.2" width="296.5" height="3.25" fill="#1A6FC6"/>
<rect x="386.3" y="187.15" width="90.6" height="6.21" fill="#1A6FC6"/>
<rect x="476.6" y="187.15" width="21.97" height="6.21" fill="#2157B2"/>
<rect x="498.28" y="187.15" width="184.52" height="6.21" fill="#1A6FC6"/>
<rect x="386.3" y="193.06" width="105.05" height="6.21" fill="#1A6FC6"/>
<rect x="491.05" y="193.06" width="7.52" height="6.21" fill="#2157B2"/>
<rect x="498.28" y="193.06" width="184.52" height="6.21" fill="#1A6FC6"/>
<rect x="386.3" y="198.97" width="3.91" height="6.21" fill="#1A6FC6"/>
<rect x="389.91" y="198.97" width="7.52" height="6.21" fill="#0E8CD8"/>
<rect x="397.14" y="198.97" width="14.75" height="6.21" fill="#1A6FC6"/>
<rect x="411.59" y="198.97" width="21.97" height="6.21" fill="#0E8CD8"/>
<rect x="433.26" y="198.97" width="7.52" height="6.21" fill="#1A6FC6"/>
<rect x="440.48" y="198.97" width="7.52" height="6.21" fill="#0E8CD8"/>
<rect x="447.71" y="198.97" width="14.75" height="6.21" fill="#1A6FC6"/>
<rect x="462.16" y="198.97" width="7.52" height="6.21" fill="#0E8CD8"/>
<rect x="469.38" y="198.97" width="7.52" height="6.21" fill="#1A6FC6"/>
<rect x="476.6" y="198.97" width="14.75" height="6.21" fill="#0E8CD8"/>
<rect x="491.05" y="198.97" width="36.42" height="6.21" fill="#1A6FC6"/>
<rect x="527.18" y="198.97" width="14.75" height="6.21" fill="#0E8CD8"/>
<rect x="541.62" y="198.97" width="86.99" height="6.21" fill="#1A6FC6"/>
<rect x="628.32" y="198.97" width="7.52" height="6.21" fill="#0E8CD8"/>
<rect x="635.54" y="198.97" width="47.26" height="6.21" fill="#1A6FC6"/>
<rect x="386.3" y="204.88" width="11.14" height="6.21" fill="#05A1E8"/>
<rect x="397.14" y="204.88" width="14.75" height="6.21" fill="#0E8CD8"/>
<rect x="411.59" y="204.88" width="14.75" height="6.21" fill="#05A1E8"/>
<rect x="426.03" y="204.88" width="65.32" height="6.21" fill="#0E8CD8"/>
<rect x="491.05" y="204.88" width="14.75" height="6.21" fill="#1A6FC6"/>
<rect x="505.5" y="204.88" width="7.52" height="6.21" fill="#0E8CD8"/>
<rect x="512.73" y="204.88" width="7.52" height="6.21" fill="#1A6FC6"/>
<rect x="519.95" y="204.88" width="21.97" height="6.21" fill="#0E8CD8"/>
<rect x="541.62" y="204.88" width="7.52" height="6.21" fill="#1A6FC6"/>
<rect x="548.85" y="204.88" width="21.97" height="6.21" fill="#0E8CD8"/>
<rect x="570.52" y="204.88" width="7.52" height="6.21" fill="#1A6FC6"/>
<rect x="577.75" y="204.88" width="29.2" height="6.21" fill="#0E8CD8"/>
<rect x="606.64" y="204.88" width="7.52" height="6.21" fill="#1A6FC6"/>
<rect x="613.87" y="204.88" width="14.75" height="6.21" fill="#0E8CD8"/>
<rect x="628.32" y="204.88" width="7.52" height="6.21" fill="#05A1E8"/>
<rect x="635.54" y="204.88" width="7.52" height="6.21" fill="#1A6FC6"/>
<rect x="642.77" y="204.88" width="29.2" height="6.21" fill="#0E8CD8"/>
<rect x="671.66" y="204.88" width="11.14" height="6.21" fill="#1A6FC6"/>
<rect x="386.3" y="210.79" width="11.14" height="6.21" fill="#1CB2EE"/>
<rect x="397.14" y="210.79" width="7.52" height="6.21" fill="#05A1E8"/>
<rect x="404.36" y="210.79" width="14.75" height="6.21" fill="#1CB2EE"/>
<rect x="418.81" y="210.79" width="14.75" height="6.21" fill="#05A1E8"/>
<rect x="433.26" y="210.79" width="36.42" height="6.21" fill="#0E8CD8"/>
<rect x="469.38" y="210.79" width="7.52" height="6.21" fill="#05A1E8"/>
<rect x="476.6" y="210.79" width="7.52" height="6.21" fill="#0E8CD8"/>
<rect x="483.83" y="210.79" width="7.52" height="6.21" fill="#05A1E8"/>
<rect x="491.05" y="210.79" width="7.52" height="6.21" fill="#0E8CD8"/>
<rect x="498.28" y="210.79" width="7.52" height="6.21" fill="#1A6FC6"/>
<rect x="505.5" y="210.79" width="123.11" height="6.21" fill="#0E8CD8"/>
<rect x="628.32" y="210.79" width="7.52" height="6.21" fill="#05A1E8"/>
<rect x="635.54" y="210.79" width="7.52" height="6.21" fill="#1A6FC6"/>
<rect x="642.77" y="210.79" width="40.03" height="6.21" fill="#0E8CD8"/>
<rect x="386.3" y="216.7" width="3.91" height="6.21" fill="#1CB2EE"/>
<rect x="389.91" y="216.7" width="7.52" height="6.21" fill="#62C9C8"/>
<rect x="397.14" y="216.7" width="29.2" height="6.21" fill="#33B8CC"/>
<rect x="426.03" y="216.7" width="58.1" height="6.21" fill="#05A1E8"/>
<rect x="483.83" y="216.7" width="7.52" height="6.21" fill="#1CB2EE"/>
<rect x="491.05" y="216.7" width="29.2" height="6.21" fill="#0E8CD8"/>
<rect x="519.95" y="216.7" width="21.97" height="6.21" fill="#05A1E8"/>
<rect x="541.62" y="216.7" width="21.97" height="6.21" fill="#0E8CD8"/>
<rect x="563.3" y="216.7" width="7.52" height="6.21" fill="#05A1E8"/>
<rect x="570.52" y="216.7" width="7.52" height="6.21" fill="#0E8CD8"/>
<rect x="577.75" y="216.7" width="21.97" height="6.21" fill="#05A1E8"/>
<rect x="599.42" y="216.7" width="29.2" height="6.21" fill="#0E8CD8"/>
<rect x="628.32" y="216.7" width="7.52" height="6.21" fill="#05A1E8"/>
<rect x="635.54" y="216.7" width="47.26" height="6.21" fill="#0E8CD8"/>
<rect x="386.3" y="222.61" width="3.91" height="6.21" fill="#62C9C8"/>
<rect x="389.91" y="222.61" width="7.52" height="6.21" fill="#97DCB7"/>
<rect x="397.14" y="222.61" width="14.75" height="6.21" fill="#62C9C8"/>
<rect x="411.59" y="222.61" width="7.52" height="6.21" fill="#97DCB7"/>
<rect x="418.81" y="222.61" width="7.52" height="6.21" fill="#33B8CC"/>
<rect x="426.03" y="222.61" width="43.65" height="6.21" fill="#1CB2EE"/>
<rect x="469.38" y="222.61" width="7.52" height="6.21" fill="#33B8CC"/>
<rect x="476.6" y="222.61" width="7.52" height="6.21" fill="#1CB2EE"/>
<rect x="483.83" y="222.61" width="7.52" height="6.21" fill="#33B8CC"/>
<rect x="491.05" y="222.61" width="14.75" height="6.21" fill="#0E8CD8"/>
<rect x="505.5" y="222.61" width="7.52" height="6.21" fill="#1CB2EE"/>
<rect x="512.73" y="222.61" width="7.52" height="6.21" fill="#05A1E8"/>
<rect x="519.95" y="222.61" width="14.75" height="6.21" fill="#33B8CC"/>
<rect x="534.4" y="222.61" width="7.52" height="6.21" fill="#1CB2EE"/>
<rect x="541.62" y="222.61" width="7.52" height="6.21" fill="#0E8CD8"/>
<rect x="548.85" y="222.61" width="14.75" height="6.21" fill="#05A1E8"/>
<rect x="563.3" y="222.61" width="7.52" height="6.21" fill="#1CB2EE"/>
<rect x="570.52" y="222.61" width="14.75" height="6.21" fill="#05A1E8"/>
<rect x="584.97" y="222.61" width="7.52" height="6.21" fill="#1CB2EE"/>
<rect x="592.2" y="222.61" width="36.42" height="6.21" fill="#05A1E8"/>
<rect x="628.32" y="222.61" width="7.52" height="6.21" fill="#1CB2EE"/>
<rect x="635.54" y="222.61" width="7.52" height="6.21" fill="#0E8CD8"/>
<rect x="642.77" y="222.61" width="40.03" height="6.21" fill="#05A1E8"/>
<rect x="386.3" y="228.52" width="3.91" height="6.21" fill="#97DCB7"/>
<rect x="389.91" y="228.52" width="7.52" height="6.21" fill="#BFE58C"/>
<rect x="397.14" y="228.52" width="29.2" height="6.21" fill="#97DCB7"/>
<rect x="426.03" y="228.52" width="7.52" height="6.21" fill="#62C9C8"/>
<rect x="433.26" y="228.52" width="36.42" height="6.21" fill="#33B8CC"/>
<rect x="469.38" y="228.52" width="21.97" height="6.21" fill="#62C9C8"/>
<rect x="491.05" y="228.52" width="14.75" height="6.21" fill="#05A1E8"/>
<rect x="505.5" y="228.52" width="7.52" height="6.21" fill="#1CB2EE"/>
<rect x="512.73" y="228.52" width="7.52" height="6.21" fill="#05A1E8"/>
<rect x="519.95" y="228.52" width="21.97" height="6.21" fill="#33B8CC"/>
<rect x="541.62" y="228.52" width="21.97" height="6.21" fill="#05A1E8"/>
<rect x="563.3" y="228.52" width="65.32" height="6.21" fill="#1CB2EE"/>
<rect x="628.32" y="228.52" width="7.52" height="6.21" fill="#33B8CC"/>
<rect x="635.54" y="228.52" width="7.52" height="6.21" fill="#0E8CD8"/>
<rect x="642.77" y="228.52" width="7.52" height="6.21" fill="#05A1E8"/>
<rect x="649.99" y="228.52" width="14.75" height="6.21" fill="#1CB2EE"/>
<rect x="664.44" y="228.52" width="7.52" height="6.21" fill="#05A1E8"/>
<rect x="671.66" y="228.52" width="11.14" height="6.21" fill="#1CB2EE"/>
<rect x="386.3" y="234.44" width="3.91" height="6.21" fill="#BFE58C"/>
<rect x="389.91" y="234.44" width="7.52" height="6.21" fill="#C9E24B"/>
<rect x="397.14" y="234.44" width="21.97" height="6.21" fill="#BFE58C"/>
<rect x="418.81" y="234.44" width="14.75" height="6.21" fill="#97DCB7"/>
<rect x="433.26" y="234.44" width="7.52" height="6.21" fill="#62C9C8"/>
<rect x="440.48" y="234.44" width="7.52" height="6.21" fill="#33B8CC"/>
<rect x="447.71" y="234.44" width="7.52" height="6.21" fill="#62C9C8"/>
<rect x="454.93" y="234.44" width="7.52" height="6.21" fill="#97DCB7"/>
<rect x="462.16" y="234.44" width="29.2" height="6.21" fill="#62C9C8"/>
<rect x="491.05" y="234.44" width="14.75" height="6.21" fill="#05A1E8"/>
<rect x="505.5" y="234.44" width="7.52" height="6.21" fill="#33B8CC"/>
<rect x="512.73" y="234.44" width="7.52" height="6.21" fill="#05A1E8"/>
<rect x="519.95" y="234.44" width="7.52" height="6.21" fill="#97DCB7"/>
<rect x="527.18" y="234.44" width="14.75" height="6.21" fill="#62C9C8"/>
<rect x="541.62" y="234.44" width="7.52" height="6.21" fill="#05A1E8"/>
<rect x="548.85" y="234.44" width="14.75" height="6.21" fill="#1CB2EE"/>
<rect x="563.3" y="234.44" width="50.87" height="6.21" fill="#33B8CC"/>
<rect x="613.87" y="234.44" width="7.52" height="6.21" fill="#1CB2EE"/>
<rect x="621.09" y="234.44" width="7.52" height="6.21" fill="#33B8CC"/>
<rect x="628.32" y="234.44" width="7.52" height="6.21" fill="#62C9C8"/>
<rect x="635.54" y="234.44" width="7.52" height="6.21" fill="#05A1E8"/>
<rect x="642.77" y="234.44" width="14.75" height="6.21" fill="#1CB2EE"/>
<rect x="657.21" y="234.44" width="7.52" height="6.21" fill="#33B8CC"/>
<rect x="664.44" y="234.44" width="7.52" height="6.21" fill="#1CB2EE"/>
<rect x="671.66" y="234.44" width="7.52" height="6.21" fill="#33B8CC"/>
<rect x="678.89" y="234.44" width="3.91" height="6.21" fill="#62C9C8"/>
<rect x="386.3" y="240.34" width="25.59" height="6.21" fill="#BFE58C"/>
<rect x="411.59" y="240.34" width="7.52" height="6.21" fill="#97DCB7"/>
<rect x="418.81" y="240.34" width="14.75" height="6.21" fill="#BFE58C"/>
<rect x="433.26" y="240.34" width="7.52" height="6.21" fill="#62C9C8"/>
<rect x="440.48" y="240.34" width="7.52" height="6.21" fill="#97DCB7"/>
<rect x="447.71" y="240.34" width="7.52" height="6.21" fill="#C9E24B"/>
<rect x="454.93" y="240.34" width="29.2" height="6.21" fill="#97DCB7"/>
<rect x="483.83" y="240.34" width="7.52" height="6.21" fill="#BFE58C"/>
<rect x="491.05" y="240.34" width="7.52" height="6.21" fill="#05A1E8"/>
<rect x="498.28" y="240.34" width="7.52" height="6.21" fill="#1CB2EE"/>
<rect x="505.5" y="240.34" width="7.52" height="6.21" fill="#62C9C8"/>
<rect x="512.73" y="240.34" width="7.52" height="6.21" fill="#1CB2EE"/>
<rect x="519.95" y="240.34" width="21.97" height="6.21" fill="#97DCB7"/>
<rect x="541.62" y="240.34" width="7.52" height="6.21" fill="#1CB2EE"/>
<rect x="548.85" y="240.34" width="14.75" height="6.21" fill="#33B8CC"/>
<rect x="563.3" y="240.34" width="50.87" height="6.21" fill="#62C9C8"/>
<rect x="613.87" y="240.34" width="7.52" height="6.21" fill="#33B8CC"/>
<rect x="621.09" y="240.34" width="7.52" height="6.21" fill="#62C9C8"/>
<rect x="628.32" y="240.34" width="7.52" height="6.21" fill="#BFE58C"/>
<rect x="635.54" y="240.34" width="7.52" height="6.21" fill="#1CB2EE"/>
<rect x="642.77" y="240.34" width="14.75" height="6.21" fill="#33B8CC"/>
<rect x="657.21" y="240.34" width="7.52" height="6.21" fill="#62C9C8"/>
<rect x="664.44" y="240.34" width="7.52" height="6.21" fill="#33B8CC"/>
<rect x="671.66" y="240.34" width="11.14" height="6.21" fill="#97DCB7"/>
<rect x="386.3" y="246.25" width="11.14" height="6.21" fill="#F4F020"/>
<rect x="397.14" y="246.25" width="7.52" height="6.21" fill="#C9E24B"/>
<rect x="404.36" y="246.25" width="14.75" height="6.21" fill="#BFE58C"/>
<rect x="418.81" y="246.25" width="7.52" height="6.21" fill="#C9E24B"/>
<rect x="426.03" y="246.25" width="7.52" height="6.21" fill="#BFE58C"/>
<rect x="433.26" y="246.25" width="21.97" height="6.21" fill="#97DCB7"/>
<rect x="454.93" y="246.25" width="7.52" height="6.21" fill="#BFE58C"/>
<rect x="462.16" y="246.25" width="7.52" height="6.21" fill="#97DCB7"/>
<rect x="469.38" y="246.25" width="14.75" height="6.21" fill="#BFE58C"/>
<rect x="483.83" y="246.25" width="7.52" height="6.21" fill="#C9E24B"/>
<rect x="491.05" y="246.25" width="14.75" height="6.21" fill="#1CB2EE"/>
<rect x="505.5" y="246.25" width="7.52" height="6.21" fill="#97DCB7"/>
<rect x="512.73" y="246.25" width="7.52" height="6.21" fill="#1CB2EE"/>
<rect x="519.95" y="246.25" width="14.75" height="6.21" fill="#BFE58C"/>
<rect x="534.4" y="246.25" width="7.52" height="6.21" fill="#97DCB7"/>
<rect x="541.62" y="246.25" width="7.52" height="6.21" fill="#1CB2EE"/>
<rect x="548.85" y="246.25" width="7.52" height="6.21" fill="#62C9C8"/>
<rect x="556.07" y="246.25" width="14.75" height="6.21" fill="#97DCB7"/>
<rect x="570.52" y="246.25" width="14.75" height="6.21" fill="#BFE58C"/>
<rect x="584.97" y="246.25" width="29.2" height="6.21" fill="#97DCB7"/>
<rect x="613.87" y="246.25" width="7.52" height="6.21" fill="#62C9C8"/>
<rect x="621.09" y="246.25" width="7.52" height="6.21" fill="#97DCB7"/>
<rect x="628.32" y="246.25" width="7.52" height="6.21" fill="#C9E24B"/>
<rect x="635.54" y="246.25" width="14.75" height="6.21" fill="#33B8CC"/>
<rect x="649.99" y="246.25" width="7.52" height="6.21" fill="#62C9C8"/>
<rect x="657.21" y="246.25" width="7.52" height="6.21" fill="#97DCB7"/>
<rect x="664.44" y="246.25" width="7.52" height="6.21" fill="#62C9C8"/>
<rect x="671.66" y="246.25" width="7.52" height="6.21" fill="#BFE58C"/>
<rect x="678.89" y="246.25" width="3.91" height="6.21" fill="#C9E24B"/>
<rect x="386.3" y="252.16" width="11.14" height="6.21" fill="#FFDD2E"/>
<rect x="397.14" y="252.16" width="7.52" height="6.21" fill="#F4F020"/>
<rect x="404.36" y="252.16" width="14.75" height="6.21" fill="#C9E24B"/>
<rect x="418.81" y="252.16" width="14.75" height="6.21" fill="#F4F020"/>
<rect x="433.26" y="252.16" width="7.52" height="6.21" fill="#C9E24B"/>
<rect x="440.48" y="252.16" width="7.52" height="6.21" fill="#BFE58C"/>
<rect x="447.71" y="252.16" width="7.52" height="6.21" fill="#F4F020"/>
<rect x="454.93" y="252.16" width="29.2" height="6.21" fill="#C9E24B"/>
<rect x="483.83" y="252.16" width="7.52" height="6.21" fill="#F4F020"/>
<rect x="491.05" y="252.16" width="7.52" height="6.21" fill="#1CB2EE"/>
<rect x="498.28" y="252.16" width="7.52" height="6.21" fill="#33B8CC"/>
<rect x="505.5" y="252.16" width="7.52" height="6.21" fill="#C9E24B"/>
<rect x="512.73" y="252.16" width="7.52" height="6.21" fill="#1CB2EE"/>
<rect x="519.95" y="252.16" width="7.52" height="6.21" fill="#C9E24B"/>
<rect x="527.18" y="252.16" width="7.52" height="6.21" fill="#F4F020"/>
<rect x="534.4" y="252.16" width="7.52" height="6.21" fill="#C9E24B"/>
<rect x="541.62" y="252.16" width="7.52" height="6.21" fill="#33B8CC"/>
<rect x="548.85" y="252.16" width="7.52" height="6.21" fill="#62C9C8"/>
<rect x="556.07" y="252.16" width="7.52" height="6.21" fill="#BFE58C"/>
<rect x="563.3" y="252.16" width="14.75" height="6.21" fill="#C9E24B"/>
<rect x="577.75" y="252.16" width="21.97" height="6.21" fill="#BFE58C"/>
<rect x="599.42" y="252.16" width="7.52" height="6.21" fill="#C9E24B"/>
<rect x="606.64" y="252.16" width="21.97" height="6.21" fill="#BFE58C"/>
<rect x="628.32" y="252.16" width="7.52" height="6.21" fill="#F4F020"/>
<rect x="635.54" y="252.16" width="14.75" height="6.21" fill="#62C9C8"/>
<rect x="649.99" y="252.16" width="7.52" height="6.21" fill="#97DCB7"/>
<rect x="657.21" y="252.16" width="7.52" height="6.21" fill="#C9E24B"/>
<rect x="664.44" y="252.16" width="7.52" height="6.21" fill="#BFE58C"/>
<rect x="671.66" y="252.16" width="11.14" height="6.21" fill="#F4F020"/>
<rect x="386.3" y="258.07" width="3.91" height="6.21" fill="#F4F020"/>
<rect x="389.91" y="258.07" width="7.52" height="6.21" fill="#FFDD2E"/>
<rect x="397.14" y="258.07" width="7.52" height="6.21" fill="#F4F020"/>
<rect x="404.36" y="258.07" width="7.52" height="6.21" fill="#C9E24B"/>
<rect x="411.59" y="258.07" width="7.52" height="6.21" fill="#F4F020"/>
<rect x="418.81" y="258.07" width="7.52" height="6.21" fill="#FFC40E"/>
<rect x="426.03" y="258.07" width="7.52" height="6.21" fill="#FFDD2E"/>
<rect x="433.26" y="258.07" width="7.52" height="6.21" fill="#FFC40E"/>
<rect x="440.48" y="258.07" width="7.52" height="6.21" fill="#F4F020"/>
<rect x="447.71" y="258.07" width="7.52" height="6.21" fill="#FFDD2E"/>
<rect x="454.93" y="258.07" width="7.52" height="6.21" fill="#F4F020"/>
<rect x="462.16" y="258.07" width="14.75" height="6.21" fill="#FFDD2E"/>
<rect x="476.6" y="258.07" width="7.52" height="6.21" fill="#F4F020"/>
<rect x="483.83" y="258.07" width="7.52" height="6.21" fill="#FFDD2E"/>
<rect x="491.05" y="258.07" width="14.75" height="6.21" fill="#33B8CC"/>
<rect x="505.5" y="258.07" width="7.52" height="6.21" fill="#FFDD2E"/>
<rect x="512.73" y="258.07" width="7.52" height="6.21" fill="#33B8CC"/>
<rect x="519.95" y="258.07" width="7.52" height="6.21" fill="#FFC40E"/>
<rect x="527.18" y="258.07" width="7.52" height="6.21" fill="#F89C12"/>
<rect x="534.4" y="258.07" width="7.52" height="6.21" fill="#FFDD2E"/>
<rect x="541.62" y="258.07" width="7.52" height="6.21" fill="#33B8CC"/>
<rect x="548.85" y="258.07" width="7.52" height="6.21" fill="#97DCB7"/>
<rect x="556.07" y="258.07" width="7.52" height="6.21" fill="#C9E24B"/>
<rect x="563.3" y="258.07" width="14.75" height="6.21" fill="#F4F020"/>
<rect x="577.75" y="258.07" width="21.97" height="6.21" fill="#C9E24B"/>
<rect x="599.42" y="258.07" width="7.52" height="6.21" fill="#F4F020"/>
<rect x="606.64" y="258.07" width="21.97" height="6.21" fill="#C9E24B"/>
<rect x="628.32" y="258.07" width="7.52" height="6.21" fill="#FFDD2E"/>
<rect x="635.54" y="258.07" width="14.75" height="6.21" fill="#97DCB7"/>
<rect x="649.99" y="258.07" width="7.52" height="6.21" fill="#C9E24B"/>
<rect x="657.21" y="258.07" width="7.52" height="6.21" fill="#F4F020"/>
<rect x="664.44" y="258.07" width="7.52" height="6.21" fill="#C9E24B"/>
<rect x="671.66" y="258.07" width="11.14" height="6.21" fill="#FFDD2E"/>
<rect x="386.3" y="263.99" width="3.91" height="6.21" fill="#F4F020"/>
<rect x="389.91" y="263.99" width="7.52" height="6.21" fill="#FFC40E"/>
<rect x="397.14" y="263.99" width="7.52" height="6.21" fill="#FFDD2E"/>
<rect x="404.36" y="263.99" width="7.52" height="6.21" fill="#C9E24B"/>
<rect x="411.59" y="263.99" width="7.52" height="6.21" fill="#FFDD2E"/>
<rect x="418.81" y="263.99" width="7.52" height="6.21" fill="#F47A16"/>
<rect x="426.03" y="263.99" width="7.52" height="6.21" fill="#FFC40E"/>
<rect x="433.26" y="263.99" width="14.75" height="6.21" fill="#F89C12"/>
<rect x="447.71" y="263.99" width="7.52" height="6.21" fill="#F47A16"/>
<rect x="454.93" y="263.99" width="7.52" height="6.21" fill="#FFDD2E"/>
<rect x="462.16" y="263.99" width="7.52" height="6.21" fill="#FFC40E"/>
<rect x="469.38" y="263.99" width="7.52" height="6.21" fill="#F89C12"/>
<rect x="476.6" y="263.99" width="7.52" height="6.21" fill="#FFC40E"/>
<rect x="483.83" y="263.99" width="7.52" height="6.21" fill="#F89C12"/>
<rect x="491.05" y="263.99" width="14.75" height="6.21" fill="#62C9C8"/>
<rect x="505.5" y="263.99" width="7.52" height="6.21" fill="#F89C12"/>
<rect x="512.73" y="263.99" width="7.52" height="6.21" fill="#33B8CC"/>
<rect x="519.95" y="263.99" width="21.97" height="6.21" fill="#F89C12"/>
<rect x="541.62" y="263.99" width="7.52" height="6.21" fill="#62C9C8"/>
<rect x="548.85" y="263.99" width="7.52" height="6.21" fill="#BFE58C"/>
<rect x="556.07" y="263.99" width="7.52" height="6.21" fill="#F4F020"/>
<rect x="563.3" y="263.99" width="21.97" height="6.21" fill="#FFDD2E"/>
<rect x="584.97" y="263.99" width="7.52" height="6.21" fill="#F4F020"/>
<rect x="592.2" y="263.99" width="7.52" height="6.21" fill="#C9E24B"/>
<rect x="599.42" y="263.99" width="7.52" height="6.21" fill="#FFDD2E"/>
<rect x="606.64" y="263.99" width="7.52" height="6.21" fill="#C9E24B"/>
<rect x="613.87" y="263.99" width="14.75" height="6.21" fill="#F4F020"/>
<rect x="628.32" y="263.99" width="7.52" height="6.21" fill="#FFC40E"/>
<rect x="635.54" y="263.99" width="7.52" height="6.21" fill="#C9E24B"/>
<rect x="642.77" y="263.99" width="7.52" height="6.21" fill="#BFE58C"/>
<rect x="649.99" y="263.99" width="7.52" height="6.21" fill="#F4F020"/>
<rect x="657.21" y="263.99" width="7.52" height="6.21" fill="#FFDD2E"/>
<rect x="664.44" y="263.99" width="14.75" height="6.21" fill="#F4F020"/>
<rect x="678.89" y="263.99" width="3.91" height="6.21" fill="#FFC40E"/>
<rect x="386.3" y="269.89" width="3.91" height="6.21" fill="#FFC40E"/>
<rect x="389.91" y="269.89" width="7.52" height="6.21" fill="#F47A16"/>
<rect x="397.14" y="269.89" width="7.52" height="6.21" fill="#F89C12"/>
<rect x="404.36" y="269.89" width="7.52" height="6.21" fill="#FFDD2E"/>
<rect x="411.59" y="269.89" width="7.52" height="6.21" fill="#FFC40E"/>
<rect x="418.81" y="269.89" width="14.75" height="6.21" fill="#F2551F"/>
<rect x="433.26" y="269.89" width="7.52" height="6.21" fill="#F89C12"/>
<rect x="440.48" y="269.89" width="7.52" height="6.21" fill="#F47A16"/>
<rect x="447.71" y="269.89" width="7.52" height="6.21" fill="#DC1F2A"/>
<rect x="454.93" y="269.89" width="14.75" height="6.21" fill="#F89C12"/>
<rect x="469.38" y="269.89" width="7.52" height="6.21" fill="#F2551F"/>
<rect x="476.6" y="269.89" width="7.52" height="6.21" fill="#F47A16"/>
<rect x="483.83" y="269.89" width="7.52" height="6.21" fill="#F2551F"/>
<rect x="491.05" y="269.89" width="14.75" height="6.21" fill="#97DCB7"/>
<rect x="505.5" y="269.89" width="7.52" height="6.21" fill="#F47A16"/>
<rect x="512.73" y="269.89" width="7.52" height="6.21" fill="#62C9C8"/>
<rect x="519.95" y="269.89" width="14.75" height="6.21" fill="#F2551F"/>
<rect x="534.4" y="269.89" width="7.52" height="6.21" fill="#F89C12"/>
<rect x="541.62" y="269.89" width="7.52" height="6.21" fill="#97DCB7"/>
<rect x="548.85" y="269.89" width="7.52" height="6.21" fill="#BFE58C"/>
<rect x="556.07" y="269.89" width="7.52" height="6.21" fill="#F4F020"/>
<rect x="563.3" y="269.89" width="21.97" height="6.21" fill="#FFDD2E"/>
<rect x="584.97" y="269.89" width="7.52" height="6.21" fill="#F4F020"/>
<rect x="592.2" y="269.89" width="7.52" height="6.21" fill="#C9E24B"/>
<rect x="599.42" y="269.89" width="7.52" height="6.21" fill="#FFDD2E"/>
<rect x="606.64" y="269.89" width="7.52" height="6.21" fill="#C9E24B"/>
<rect x="613.87" y="269.89" width="14.75" height="6.21" fill="#F4F020"/>
<rect x="628.32" y="269.89" width="7.52" height="6.21" fill="#FFDD2E"/>
<rect x="635.54" y="269.89" width="7.52" height="6.21" fill="#F4F020"/>
<rect x="642.77" y="269.89" width="7.52" height="6.21" fill="#C9E24B"/>
<rect x="649.99" y="269.89" width="14.75" height="6.21" fill="#FFDD2E"/>
<rect x="664.44" y="269.89" width="14.75" height="6.21" fill="#F4F020"/>
<rect x="678.89" y="269.89" width="3.91" height="6.21" fill="#FFDD2E"/>
<rect x="386.3" y="275.81" width="3.91" height="6.21" fill="#F89C12"/>
<rect x="389.91" y="275.81" width="7.52" height="6.21" fill="#F2551F"/>
<rect x="397.14" y="275.81" width="21.97" height="6.21" fill="#F47A16"/>
<rect x="418.81" y="275.81" width="21.97" height="6.21" fill="#DC1F2A"/>
<rect x="440.48" y="275.81" width="7.52" height="6.21" fill="#F2551F"/>
<rect x="447.71" y="275.81" width="7.52" height="6.21" fill="#A3252E"/>
<rect x="454.93" y="275.81" width="14.75" height="6.21" fill="#F47A16"/>
<rect x="469.38" y="275.81" width="7.52" height="6.21" fill="#F2551F"/>
<rect x="476.6" y="275.81" width="7.52" height="6.21" fill="#F47A16"/>
<rect x="483.83" y="275.81" width="7.52" height="6.21" fill="#F2551F"/>
<rect x="491.05" y="275.81" width="7.52" height="6.21" fill="#C9E24B"/>
<rect x="498.28" y="275.81" width="7.52" height="6.21" fill="#F4F020"/>
<rect x="505.5" y="275.81" width="7.52" height="6.21" fill="#DC1F2A"/>
<rect x="512.73" y="275.81" width="7.52" height="6.21" fill="#C9E24B"/>
<rect x="519.95" y="275.81" width="7.52" height="6.21" fill="#DC1F2A"/>
<rect x="527.18" y="275.81" width="7.52" height="6.21" fill="#A3252E"/>
<rect x="534.4" y="275.81" width="7.52" height="6.21" fill="#DC1F2A"/>
<rect x="541.62" y="275.81" width="7.52" height="6.21" fill="#C9E24B"/>
<rect x="548.85" y="275.81" width="7.52" height="6.21" fill="#BFE58C"/>
<rect x="556.07" y="275.81" width="7.52" height="6.21" fill="#F4F020"/>
<rect x="563.3" y="275.81" width="7.52" height="6.21" fill="#FFC40E"/>
<rect x="570.52" y="275.81" width="7.52" height="6.21" fill="#F4F020"/>
<rect x="577.75" y="275.81" width="7.52" height="6.21" fill="#FFDD2E"/>
<rect x="584.97" y="275.81" width="14.75" height="6.21" fill="#F4F020"/>
<rect x="599.42" y="275.81" width="7.52" height="6.21" fill="#FFDD2E"/>
<rect x="606.64" y="275.81" width="21.97" height="6.21" fill="#F4F020"/>
<rect x="628.32" y="275.81" width="7.52" height="6.21" fill="#FFDD2E"/>
<rect x="635.54" y="275.81" width="14.75" height="6.21" fill="#F4F020"/>
<rect x="649.99" y="275.81" width="14.75" height="6.21" fill="#FFC40E"/>
<rect x="664.44" y="275.81" width="18.36" height="6.21" fill="#F4F020"/>
<rect x="386.3" y="281.71" width="3.91" height="6.21" fill="#F47A16"/>
<rect x="389.91" y="281.71" width="14.75" height="6.21" fill="#DC1F2A"/>
<rect x="404.36" y="281.71" width="14.75" height="6.21" fill="#F2551F"/>
<rect x="418.81" y="281.71" width="7.52" height="6.21" fill="#A3252E"/>
<rect x="426.03" y="281.71" width="14.75" height="6.21" fill="#DC1F2A"/>
<rect x="440.48" y="281.71" width="7.52" height="6.21" fill="#F2551F"/>
<rect x="447.71" y="281.71" width="7.52" height="6.21" fill="#A3252E"/>
<rect x="454.93" y="281.71" width="36.42" height="6.21" fill="#F2551F"/>
<rect x="491.05" y="281.71" width="14.75" height="6.21" fill="#FFC40E"/>
<rect x="505.5" y="281.71" width="7.52" height="6.21" fill="#A3252E"/>
<rect x="512.73" y="281.71" width="7.52" height="6.21" fill="#FFDD2E"/>
<rect x="519.95" y="281.71" width="7.52" height="6.21" fill="#DC1F2A"/>
<rect x="527.18" y="281.71" width="14.75" height="6.21" fill="#A3252E"/>
<rect x="541.62" y="281.71" width="7.52" height="6.21" fill="#FFDD2E"/>
<rect x="548.85" y="281.71" width="7.52" height="6.21" fill="#1CB2EE"/>
<rect x="556.07" y="281.71" width="7.52" height="6.21" fill="#FFDD2E"/>
<rect x="563.3" y="281.71" width="7.52" height="6.21" fill="#FFC40E"/>
<rect x="570.52" y="281.71" width="7.52" height="6.21" fill="#F4F020"/>
<rect x="577.75" y="281.71" width="7.52" height="6.21" fill="#FFC40E"/>
<rect x="584.97" y="281.71" width="7.52" height="6.21" fill="#BFE58C"/>
<rect x="592.2" y="281.71" width="7.52" height="6.21" fill="#F4F020"/>
<rect x="599.42" y="281.71" width="7.52" height="6.21" fill="#F47A16"/>
<rect x="606.64" y="281.71" width="7.52" height="6.21" fill="#F89C12"/>
<rect x="613.87" y="281.71" width="7.52" height="6.21" fill="#F4F020"/>
<rect x="621.09" y="281.71" width="7.52" height="6.21" fill="#BFE58C"/>
<rect x="628.32" y="281.71" width="7.52" height="6.21" fill="#FFDD2E"/>
<rect x="635.54" y="281.71" width="7.52" height="6.21" fill="#F4F020"/>
<rect x="642.77" y="281.71" width="7.52" height="6.21" fill="#FFC40E"/>
<rect x="649.99" y="281.71" width="7.52" height="6.21" fill="#FFDD2E"/>
<rect x="657.21" y="281.71" width="7.52" height="6.21" fill="#FFC40E"/>
<rect x="664.44" y="281.71" width="7.52" height="6.21" fill="#FFDD2E"/>
<rect x="671.66" y="281.71" width="7.52" height="6.21" fill="#FFC40E"/>
<rect x="678.89" y="281.71" width="3.91" height="6.21" fill="#F4F020"/>
<rect x="386.3" y="287.62" width="3.91" height="6.21" fill="#F89C12"/>
<rect x="389.91" y="287.62" width="7.52" height="6.21" fill="#F2551F"/>
<rect x="397.14" y="287.62" width="7.52" height="6.21" fill="#DC1F2A"/>
<rect x="404.36" y="287.62" width="14.75" height="6.21" fill="#F47A16"/>
<rect x="418.81" y="287.62" width="7.52" height="6.21" fill="#F2551F"/>
<rect x="426.03" y="287.62" width="7.52" height="6.21" fill="#F47A16"/>
<rect x="433.26" y="287.62" width="7.52" height="6.21" fill="#F2551F"/>
<rect x="440.48" y="287.62" width="7.52" height="6.21" fill="#F47A16"/>
<rect x="447.71" y="287.62" width="7.52" height="6.21" fill="#F2551F"/>
<rect x="454.93" y="287.62" width="29.2" height="6.21" fill="#F47A16"/>
<rect x="483.83" y="287.62" width="7.52" height="6.21" fill="#F2551F"/>
<rect x="491.05" y="287.62" width="14.75" height="6.21" fill="#F47A16"/>
<rect x="505.5" y="287.62" width="7.52" height="6.21" fill="#A3252E"/>
<rect x="512.73" y="287.62" width="7.52" height="6.21" fill="#F47A16"/>
<rect x="519.95" y="287.62" width="14.75" height="6.21" fill="#F2551F"/>
<rect x="534.4" y="287.62" width="7.52" height="6.21" fill="#DC1F2A"/>
<rect x="541.62" y="287.62" width="7.52" height="6.21" fill="#F89C12"/>
<rect x="548.85" y="287.62" width="7.52" height="6.21" fill="#F4F020"/>
<rect x="556.07" y="287.62" width="7.52" height="6.21" fill="#F89C12"/>
<rect x="563.3" y="287.62" width="7.52" height="6.21" fill="#C9E24B"/>
<rect x="570.52" y="287.62" width="7.52" height="6.21" fill="#FFDD2E"/>
<rect x="577.75" y="287.62" width="7.52" height="6.21" fill="#C9E24B"/>
<rect x="584.97" y="287.62" width="7.52" height="6.21" fill="#33B8CC"/>
<rect x="592.2" y="287.62" width="7.52" height="6.21" fill="#C9E24B"/>
<rect x="599.42" y="287.62" width="7.52" height="6.21" fill="#FFC40E"/>
<rect x="606.64" y="287.62" width="7.52" height="6.21" fill="#F89C12"/>
<rect x="613.87" y="287.62" width="7.52" height="6.21" fill="#C9E24B"/>
<rect x="621.09" y="287.62" width="7.52" height="6.21" fill="#97DCB7"/>
<rect x="628.32" y="287.62" width="7.52" height="6.21" fill="#FFDD2E"/>
<rect x="635.54" y="287.62" width="14.75" height="6.21" fill="#C9E24B"/>
<rect x="649.99" y="287.62" width="7.52" height="6.21" fill="#BFE58C"/>
<rect x="657.21" y="287.62" width="7.52" height="6.21" fill="#F47A16"/>
<rect x="664.44" y="287.62" width="7.52" height="6.21" fill="#BFE58C"/>
<rect x="671.66" y="287.62" width="11.14" height="6.21" fill="#FFC40E"/>
<rect x="386.3" y="293.53" width="3.91" height="6.21" fill="#F89C12"/>
<rect x="389.91" y="293.53" width="14.75" height="6.21" fill="#F2551F"/>
<rect x="404.36" y="293.53" width="7.52" height="6.21" fill="#F89C12"/>
<rect x="411.59" y="293.53" width="7.52" height="6.21" fill="#F47A16"/>
<rect x="418.81" y="293.53" width="58.1" height="6.21" fill="#F89C12"/>
<rect x="476.6" y="293.53" width="7.52" height="6.21" fill="#FFC40E"/>
<rect x="483.83" y="293.53" width="29.2" height="6.21" fill="#F47A16"/>
<rect x="512.73" y="293.53" width="21.97" height="6.21" fill="#F89C12"/>
<rect x="534.4" y="293.53" width="7.52" height="6.21" fill="#F47A16"/>
<rect x="541.62" y="293.53" width="7.52" height="6.21" fill="#F89C12"/>
<rect x="548.85" y="293.53" width="14.75" height="6.21" fill="#FFC40E"/>
<rect x="563.3" y="293.53" width="7.52" height="6.21" fill="#F4F020"/>
<rect x="570.52" y="293.53" width="7.52" height="6.21" fill="#C9E24B"/>
<rect x="577.75" y="293.53" width="7.52" height="6.21" fill="#97DCB7"/>
<rect x="584.97" y="293.53" width="7.52" height="6.21" fill="#62C9C8"/>
<rect x="592.2" y="293.53" width="7.52" height="6.21" fill="#BFE58C"/>
<rect x="599.42" y="293.53" width="7.52" height="6.21" fill="#F4F020"/>
<rect x="606.64" y="293.53" width="7.52" height="6.21" fill="#FFDD2E"/>
<rect x="613.87" y="293.53" width="7.52" height="6.21" fill="#C9E24B"/>
<rect x="621.09" y="293.53" width="7.52" height="6.21" fill="#BFE58C"/>
<rect x="628.32" y="293.53" width="7.52" height="6.21" fill="#C9E24B"/>
<rect x="635.54" y="293.53" width="21.97" height="6.21" fill="#BFE58C"/>
<rect x="657.21" y="293.53" width="7.52" height="6.21" fill="#FFDD2E"/>
<rect x="664.44" y="293.53" width="7.52" height="6.21" fill="#C9E24B"/>
<rect x="671.66" y="293.53" width="11.14" height="6.21" fill="#FFC40E"/>
<rect x="386.3" y="299.44" width="3.91" height="3.25" fill="#FFC40E"/>
<rect x="389.91" y="299.44" width="14.75" height="3.25" fill="#F47A16"/>
<rect x="404.36" y="299.44" width="14.75" height="3.25" fill="#F89C12"/>
<rect x="418.81" y="299.44" width="21.97" height="3.25" fill="#FFC40E"/>
<rect x="440.48" y="299.44" width="43.65" height="3.25" fill="#FFDD2E"/>
<rect x="483.83" y="299.44" width="7.52" height="3.25" fill="#FFC40E"/>
<rect x="491.05" y="299.44" width="21.97" height="3.25" fill="#F89C12"/>
<rect x="512.73" y="299.44" width="29.2" height="3.25" fill="#FFC40E"/>
<rect x="541.62" y="299.44" width="7.52" height="3.25" fill="#F89C12"/>
<rect x="548.85" y="299.44" width="14.75" height="3.25" fill="#FFC40E"/>
<rect x="563.3" y="299.44" width="7.52" height="3.25" fill="#F4F020"/>
<rect x="570.52" y="299.44" width="7.52" height="3.25" fill="#BFE58C"/>
<rect x="577.75" y="299.44" width="7.52" height="3.25" fill="#62C9C8"/>
<rect x="584.97" y="299.44" width="7.52" height="3.25" fill="#33B8CC"/>
<rect x="592.2" y="299.44" width="7.52" height="3.25" fill="#62C9C8"/>
<rect x="599.42" y="299.44" width="14.75" height="3.25" fill="#C9E24B"/>
<rect x="613.87" y="299.44" width="29.2" height="3.25" fill="#BFE58C"/>
<rect x="642.77" y="299.44" width="7.52" height="3.25" fill="#97DCB7"/>
<rect x="649.99" y="299.44" width="7.52" height="3.25" fill="#BFE58C"/>
<rect x="657.21" y="299.44" width="7.52" height="3.25" fill="#C9E24B"/>
<rect x="664.44" y="299.44" width="7.52" height="3.25" fill="#F4F020"/>
<rect x="671.66" y="299.44" width="7.52" height="3.25" fill="#FFDD2E"/>
<rect x="678.89" y="299.44" width="3.91" height="3.25" fill="#F89C12"/>
</g>
<rect x="386.3" y="184.2" width="296.2" height="118.2" fill="none" stroke="#222" stroke-width="0.55"/>
<path d="M386.3 302.4v1.5M386.3 184.2v-1.5M393.52 302.4v1.5M393.52 184.2v-1.5M400.75 302.4v1.5M400.75 184.2v-1.5M407.97 302.4v2.8M407.97 184.2v-2.8M415.2 302.4v1.5M415.2 184.2v-1.5M422.42 302.4v1.5M422.42 184.2v-1.5M429.65 302.4v1.5M429.65 184.2v-1.5M436.87 302.4v1.5M436.87 184.2v-1.5M444.1 302.4v2.8M444.1 184.2v-2.8M451.32 302.4v1.5M451.32 184.2v-1.5M458.54 302.4v1.5M458.54 184.2v-1.5M465.77 302.4v1.5M465.77 184.2v-1.5M472.99 302.4v1.5M472.99 184.2v-1.5M480.22 302.4v2.8M480.22 184.2v-2.8M487.44 302.4v1.5M487.44 184.2v-1.5M494.67 302.4v1.5M494.67 184.2v-1.5M501.89 302.4v1.5M501.89 184.2v-1.5M509.11 302.4v1.5M509.11 184.2v-1.5M516.34 302.4v2.8M516.34 184.2v-2.8M523.56 302.4v1.5M523.56 184.2v-1.5M530.79 302.4v1.5M530.79 184.2v-1.5M538.01 302.4v1.5M538.01 184.2v-1.5M545.24 302.4v1.5M545.24 184.2v-1.5M552.46 302.4v2.8M552.46 184.2v-2.8M559.69 302.4v1.5M559.69 184.2v-1.5M566.91 302.4v1.5M566.91 184.2v-1.5M574.13 302.4v1.5M574.13 184.2v-1.5M581.36 302.4v1.5M581.36 184.2v-1.5M588.58 302.4v2.8M588.58 184.2v-2.8M595.81 302.4v1.5M595.81 184.2v-1.5M603.03 302.4v1.5M603.03 184.2v-1.5M610.26 302.4v1.5M610.26 184.2v-1.5M617.48 302.4v1.5M617.48 184.2v-1.5M624.7 302.4v2.8M624.7 184.2v-2.8M631.93 302.4v1.5M631.93 184.2v-1.5M639.15 302.4v1.5M639.15 184.2v-1.5M646.38 302.4v1.5M646.38 184.2v-1.5M653.6 302.4v1.5M653.6 184.2v-1.5M660.83 302.4v2.8M660.83 184.2v-2.8M668.05 302.4v1.5M668.05 184.2v-1.5M675.28 302.4v1.5M675.28 184.2v-1.5M682.5 302.4v1.5M682.5 184.2v-1.5M386.3 302.4h-2.8M682.5 302.4h2.8M386.3 278.76h-2.8M682.5 278.76h2.8M386.3 255.12h-2.8M682.5 255.12h2.8M386.3 231.48h-2.8M682.5 231.48h2.8M386.3 207.84h-2.8M682.5 207.84h2.8M386.3 184.2h-2.8M682.5 184.2h2.8" stroke="#3a3a3a" stroke-width="0.5" fill="none"/>
<path d="M387.3 243.3H682.5" stroke="#0a1a30" stroke-width="1.1" stroke-dasharray="1.1 2.45" fill="none" opacity="0.9"/>
<path d="M387.3 190.11H682.5" stroke="#0a1a30" stroke-width="1.1" stroke-dasharray="1.1 2.45" fill="none" opacity="0.9"/>
<text x="407.97"  y="316.2" font-size="11.4" text-anchor="middle" fill="#000">1985</text>
<text x="444.1"  y="316.2" font-size="11.4" text-anchor="middle" fill="#000">1990</text>
<text x="480.22"  y="316.2" font-size="11.4" text-anchor="middle" fill="#000">1995</text>
<text x="516.34"  y="316.2" font-size="11.4" text-anchor="middle" fill="#000">2000</text>
<text x="552.46"  y="316.2" font-size="11.4" text-anchor="middle" fill="#000">2005</text>
<text x="588.58"  y="316.2" font-size="11.4" text-anchor="middle" fill="#000">2010</text>
<text x="624.7"  y="316.2" font-size="11.4" text-anchor="middle" fill="#000">2015</text>
<text x="660.83"  y="316.2" font-size="11.4" text-anchor="middle" fill="#000">2020</text>
<clipPath id="clipd"><rect x="386.3" y="184.2" width="296.2" height="118.2"/></clipPath><path d="M386.3 190.7 L393.52 191.9 L400.75 192.2 L407.97 190.1 L412.74 190.9 L415.2 195 L417.08 191.3 L422.42 190.1 L429.65 191.3 L436.87 193.8 L444.1 191.3 L451.32 190.7 L458.54 196.9 L465.77 190.9 L472.99 189.7 L480.22 197.1 L487.44 195 L494.67 201.8 L501.89 204.6 L509.11 197.1 L516.34 192.5 L523.56 194 L530.79 193.8 L538.01 196.6 L545.24 197.9 L547.77 190.7 L552.46 187.6 L559.69 189.4 L566.91 197.2 L574.13 196.3 L581.36 195.9 L588.58 195 L595.81 193.8 L603.03 189 L610.26 196.7 L617.48 195.5 L624.7 194.4 L628.9 184.5 L631.93 182.5 L634.24 185.1 L638.21 195 L646.38 192.5 L653.6 191.7 L660.83 191.9 L668.05 191.7 L675.28 192.2 L682.5 193.8" fill="none" stroke="#0a0a0a" stroke-width="2.1" stroke-linejoin="round" stroke-linecap="butt" clip-path="url(#clipd)"/>
<g font-size="12" fill="#000">
<text x="67" y="8.9">a) SST</text>
<text x="390.3" y="8.9">b) Variance of SST</text>
<text x="67" y="173.8">c) SST</text>
<text x="390.3" y="173.8">d) Variance of SST</text>
</g>
<g font-size="11.45" fill="#000" text-anchor="end">
<text x="355.3" y="37.2">95% SIC</text>
<text x="355.3" y="91.5">50% SIC</text>
<text x="355.3" y="201.2">95% SIC</text>
<text x="355.3" y="255.5">50% SIC</text>
<text x="674.9" y="58.9">variance = 0.2</text>
<text x="674.9" y="208.8">variance = 0.2</text>
</g>
<g font-size="12.9" fill="#000" text-anchor="start">
<text transform="translate(32.7 146.8) rotate(-90)">Sea ice concentration (%)</text>
<text transform="translate(32.7 316.4) rotate(-90)">Sea ice concentration (%)</text>
</g>
<g font-size="14.5" font-weight="bold" fill="#000" text-anchor="middle">
<text transform="translate(10.3 81.9) rotate(-90)">OSTIA</text>
<text transform="translate(10.3 243.2) rotate(-90)">OISST</text>
</g>
<g shape-rendering="crispEdges">
<rect x="104.6" y="332.7" width="11.83" height="8.3" fill="#2157B2"/>
<rect x="116.13" y="332.7" width="11.83" height="8.3" fill="#1A6FC6"/>
<rect x="127.67" y="332.7" width="11.83" height="8.3" fill="#0E8CD8"/>
<rect x="139.2" y="332.7" width="11.83" height="8.3" fill="#05A1E8"/>
<rect x="150.73" y="332.7" width="11.83" height="8.3" fill="#1CB2EE"/>
<rect x="162.27" y="332.7" width="11.83" height="8.3" fill="#33B8CC"/>
<rect x="173.8" y="332.7" width="11.83" height="8.3" fill="#62C9C8"/>
<rect x="185.33" y="332.7" width="11.83" height="8.3" fill="#97DCB7"/>
<rect x="196.87" y="332.7" width="11.83" height="8.3" fill="#BFE58C"/>
<rect x="208.4" y="332.7" width="11.83" height="8.3" fill="#C9E24B"/>
<rect x="219.93" y="332.7" width="11.83" height="8.3" fill="#F4F020"/>
<rect x="231.47" y="332.7" width="11.83" height="8.3" fill="#FFDD2E"/>
<rect x="243" y="332.7" width="11.83" height="8.3" fill="#FFC40E"/>
<rect x="254.53" y="332.7" width="11.83" height="8.3" fill="#F89C12"/>
<rect x="266.07" y="332.7" width="11.83" height="8.3" fill="#F47A16"/>
<rect x="277.6" y="332.7" width="11.83" height="8.3" fill="#F2551F"/>
<rect x="289.13" y="332.7" width="11.83" height="8.3" fill="#DC1F2A"/>
<rect x="300.67" y="332.7" width="11.83" height="8.3" fill="#A3252E"/>
</g>
<path d="M104.6 332.7L99.8 336.85L104.6 341Z" fill="#1E5CC6"/>
<path d="M312.2 332.7L317 336.85L312.2 341Z" fill="#CF2F36"/>
<path d="M104.6 332.7H312.2L317 336.85L312.2 341H104.6L99.8 336.85Z M104.6 332.7V341 M312.2 332.7V341" fill="none" stroke="#0a0a0a" stroke-width="1.25" stroke-linejoin="miter"/>
<text x="104.6" y="354.1" font-size="11.4" text-anchor="middle" fill="#000">−2</text>
<text x="146.12" y="354.1" font-size="11.4" text-anchor="middle" fill="#000">−1</text>
<text x="187.64" y="354.1" font-size="11.4" text-anchor="middle" fill="#000">0</text>
<text x="229.16" y="354.1" font-size="11.4" text-anchor="middle" fill="#000">1</text>
<text x="270.68" y="354.1" font-size="11.4" text-anchor="middle" fill="#000">2</text>
<text x="312.2" y="354.1" font-size="11.4" text-anchor="middle" fill="#000">3</text>
<path d="M104.6 341v2.4M125.36 341v2.4M146.12 341v2.4M166.88 341v2.4M187.64 341v2.4M208.4 341v2.4M229.16 341v2.4M249.92 341v2.4M270.68 341v2.4M291.44 341v2.4M312.2 341v2.4" stroke="#222" stroke-width="0.6" fill="none"/>
<text x="318.5" y="341.0" font-size="11" fill="#000">°C</text>
<g shape-rendering="crispEdges">
<rect x="430.9" y="332.7" width="11.76" height="8.3" fill="#2157B2"/>
<rect x="442.36" y="332.7" width="11.76" height="8.3" fill="#1A6FC6"/>
<rect x="453.82" y="332.7" width="11.76" height="8.3" fill="#0E8CD8"/>
<rect x="465.28" y="332.7" width="11.76" height="8.3" fill="#05A1E8"/>
<rect x="476.74" y="332.7" width="11.76" height="8.3" fill="#1CB2EE"/>
<rect x="488.21" y="332.7" width="11.76" height="8.3" fill="#33B8CC"/>
<rect x="499.67" y="332.7" width="11.76" height="8.3" fill="#62C9C8"/>
<rect x="511.13" y="332.7" width="11.76" height="8.3" fill="#97DCB7"/>
<rect x="522.59" y="332.7" width="11.76" height="8.3" fill="#BFE58C"/>
<rect x="534.05" y="332.7" width="11.76" height="8.3" fill="#C9E24B"/>
<rect x="545.51" y="332.7" width="11.76" height="8.3" fill="#F4F020"/>
<rect x="556.97" y="332.7" width="11.76" height="8.3" fill="#FFDD2E"/>
<rect x="568.43" y="332.7" width="11.76" height="8.3" fill="#FFC40E"/>
<rect x="579.89" y="332.7" width="11.76" height="8.3" fill="#F89C12"/>
<rect x="591.36" y="332.7" width="11.76" height="8.3" fill="#F47A16"/>
<rect x="602.82" y="332.7" width="11.76" height="8.3" fill="#F2551F"/>
<rect x="614.28" y="332.7" width="11.76" height="8.3" fill="#DC1F2A"/>
<rect x="625.74" y="332.7" width="11.76" height="8.3" fill="#A3252E"/>
</g>
<path d="M430.9 332.7L426.1 336.85L430.9 341Z" fill="#1E5CC6"/>
<path d="M637.2 332.7L642 336.85L637.2 341Z" fill="#CF2F36"/>
<path d="M430.9 332.7H637.2L642 336.85L637.2 341H430.9L426.1 336.85Z M430.9 332.7V341 M637.2 332.7V341" fill="none" stroke="#0a0a0a" stroke-width="1.25" stroke-linejoin="miter"/>
<text x="430.9" y="354.1" font-size="11.4" text-anchor="middle" fill="#000">0</text>
<text x="499.67" y="354.1" font-size="11.4" text-anchor="middle" fill="#000">1</text>
<text x="568.43" y="354.1" font-size="11.4" text-anchor="middle" fill="#000">2</text>
<text x="637.2" y="354.1" font-size="11.4" text-anchor="middle" fill="#000">3</text>
<path d="M430.9 341v2.4M465.28 341v2.4M499.67 341v2.4M534.05 341v2.4M568.43 341v2.4M602.82 341v2.4M637.2 341v2.4" stroke="#222" stroke-width="0.6" fill="none"/>
<text x="643.5" y="341.0" font-size="11" fill="#000">°C<tspan font-size="7.5" dy="-4.5">2</tspan></text>
</svg>
</body></html>
